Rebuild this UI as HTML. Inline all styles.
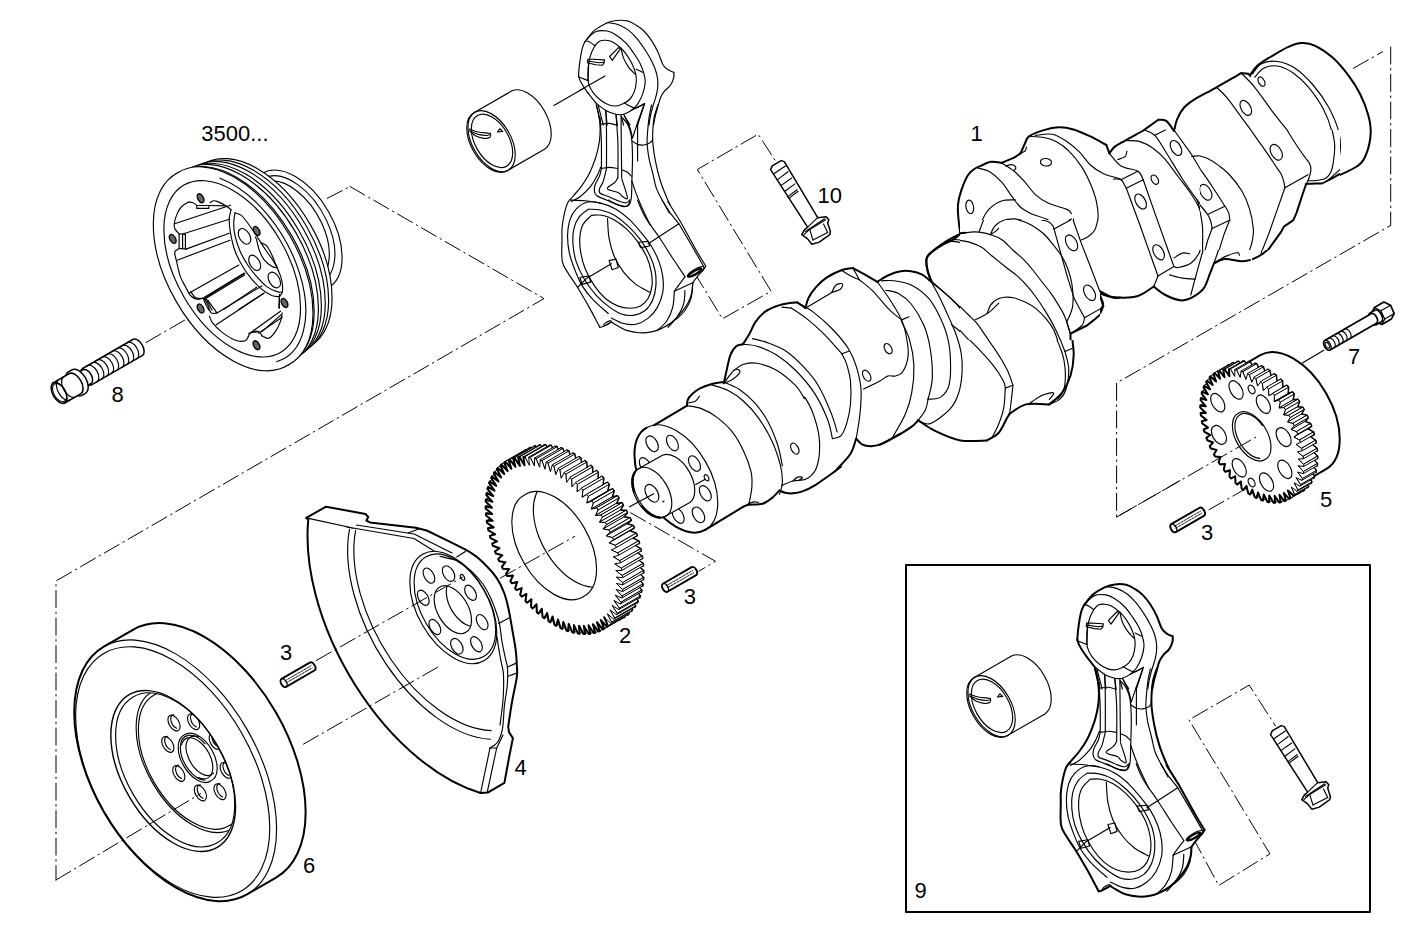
<!DOCTYPE html>
<html><head><meta charset="utf-8"><title>Crankshaft</title>
<style>
html,body{margin:0;padding:0;background:#fff}
body{width:1418px;height:945px;overflow:hidden}
svg{display:block}
.t{fill:none;stroke:#000;stroke-width:1.15}
.k{fill:none;stroke:#000;stroke-width:2}
.w{fill:#fff;stroke:#000;stroke-width:1.15}
.wk{fill:#fff;stroke:#000;stroke-width:2}
.wn{fill:#fff;stroke:none}
.d{fill:none;stroke:#000;stroke-width:1;stroke-dasharray:17 4.5 1.5 4.5}
text{font-family:"Liberation Sans",sans-serif;font-size:22px;fill:#000}
</style></head><body>
<svg width="1418" height="945" viewBox="0 0 1418 945" stroke-linecap="round" stroke-linejoin="round">
<rect width="1418" height="945" fill="#fff"/>
<rect x="906" y="565" width="464" height="347" class="k"/>
<g id="p_lines"><path class="d" d="M327 198.5L350 186.5"/><path class="d" d="M350 186.5L544 298.6L56 581L56 880"/><path class="d" d="M146 342.5L191 316.5"/><path class="d" d="M1353.4 68.2L1382.6 51.8"/><path class="d" d="M1390.7 47L1390.7 225.4L1116.6 383L1116.6 517.1L1180 480.6"/><path class="d" d="M1209 509.7L1243 490.3"/><path class="t" d="M1302.7 362.8L1323.8 350.3"/></g>
<g id="p_damper"><path class="wk" d="M247 894.4A143.1 82.6 60 0 1 103.8 646.6L132.9 629.8A143.1 82.6 60 0 1 276 877.7Z"/><path class="t" d="M103.8 646.6A143.1 82.6 60 0 1 247 894.4"/><path class="t" d="M241.3 890.9A137.2 79.2 60 1 1 104.1 653.2A137.2 79.2 60 1 1 241.3 890.9Z"/><path class="t" d="M217.3 847.4A88.2 50.9 60 1 1 129.1 694.6A88.2 50.9 60 1 1 217.3 847.4Z" style="stroke-width:1.4"/><path class="t" d="M217.3 842.8A84.2 48.6 60 1 1 133.1 696.9A84.2 48.6 60 1 1 217.3 842.8Z"/><clipPath id="dmpclip"><path d="M217.3 842.8A84.2 48.6 60 1 1 133.1 696.9A84.2 48.6 60 1 1 217.3 842.8Z"/></clipPath><g clip-path="url(#dmpclip)"><path class="t" d="M231.9 828.7A79.3 45.8 60 1 1 152.6 691.3A79.3 45.8 60 1 1 231.9 828.7Z"/><path class="t" d="M229.9 825.2A75.3 43.5 60 1 1 154.6 694.8A75.3 43.5 60 1 1 229.9 825.2Z"/><path class="t" d="M211 780.8A26.6 15.4 60 1 1 184.4 734.8A26.6 15.4 60 1 1 211 780.8Z"/><path class="t" d="M205.1 780.2A24.6 14.2 60 1 1 205.1 743.8"/><path class="t" d="M213.6 773.1A21.5 12.4 60 1 1 198.5 737"/><path class="t" d="M181.5 744.7A22.5 13 60 1 1 198.2 777.4"/><path class="t" d="M178.3 730.5A8.6 5 60 1 1 169.7 715.6A8.6 5 60 1 1 178.3 730.5Z"/><path class="t" d="M176.6 728.3A7.6 4.4 60 0 1 173.9 714.9"/><path class="t" d="M197.9 729.2A8.6 5 60 1 1 189.3 714.3A8.6 5 60 1 1 197.9 729.2Z"/><path class="t" d="M196.3 727A7.6 4.4 60 0 1 193.5 713.6"/><path class="t" d="M219.5 748.8A8.6 5 60 1 1 210.9 733.9A8.6 5 60 1 1 219.5 748.8Z"/><path class="t" d="M217.9 746.6A7.6 4.4 60 0 1 215.1 733.2"/><path class="t" d="M230.5 777.8A8.6 5 60 1 1 221.9 762.9A8.6 5 60 1 1 230.5 777.8Z"/><path class="t" d="M228.8 775.5A7.6 4.4 60 0 1 226 762.1"/><path class="t" d="M224.3 799.2A8.6 5 60 1 1 215.7 784.3A8.6 5 60 1 1 224.3 799.2Z"/><path class="t" d="M222.6 796.9A7.6 4.4 60 0 1 219.9 783.5"/><path class="t" d="M204.7 800.5A8.6 5 60 1 1 196.1 785.6A8.6 5 60 1 1 204.7 800.5Z"/><path class="t" d="M203 798.2A7.6 4.4 60 0 1 200.3 784.8"/><path class="t" d="M183.1 780.9A8.6 5 60 1 1 174.5 766A8.6 5 60 1 1 183.1 780.9Z"/><path class="t" d="M181.4 778.6A7.6 4.4 60 0 1 178.7 765.2"/><path class="t" d="M172.1 751.9A8.6 5 60 1 1 163.5 737A8.6 5 60 1 1 172.1 751.9Z"/><path class="t" d="M170.5 749.7A7.6 4.4 60 0 1 167.7 736.3"/></g></g>
<g id="p_plate"><path class="wk" d="M306.2 517.9L326 506.7L365.5 513.9L368.2 517L366.4 520.6L370 522.4L415.9 527.8L426.7 530.5L426.7 530.5C433.9 534.1 460 546.3 469.9 552.1C479.8 557.9 481.5 561.2 486 565.5C490.5 569.8 493.8 573.6 496.8 578.1C499.8 582.6 502.1 587.4 504 592.5C505.9 597.6 507.2 602.8 508.5 608.7C509.8 614.6 510.8 621.1 512 628C513.2 634.9 514.9 643.8 515.7 650C516.5 656.2 516.6 660.5 516.8 665C517 669.5 517.6 671.1 516.8 677.2C516 683.4 513.4 693.6 512 701.9C510.6 710.1 508.8 722.6 508.2 726.7L508.2 726.7L509.1 732.4L512.9 738.1L509.1 757.2L504.4 782.9L488.2 792.4L480.6 793A198 114.3 60 0 1 308.3 519.4Z"/><path class="t" d="M306.2 517.9L353 528L414 538.5L434 551"/><path class="t" d="M356.5 525L414.1 534L452 553"/><path class="t" d="M408 533L420 528.5"/><path class="t" d="M456.7 557L465.4 551.4"/><path class="t" d="M490.1 739.3A143.2 82.7 60 0 1 349.5 529.2"/><path class="t" d="M491.2 730.6A136.5 78.8 60 0 1 355.6 530.4"/><path class="t" d="M346.7 527L353 528.3"/><path class="t" d="M484 660.7A61.4 35.5 60 1 1 422.6 554.3A61.4 35.5 60 1 1 484 660.7Z"/><path class="t" d="M483.7 656.5A57.6 33.3 60 1 1 426.1 556.7A57.6 33.3 60 1 1 483.7 656.5Z"/><path class="t" d="M465.9 632.3A26.1 15.1 60 1 1 439.8 587.1A26.1 15.1 60 1 1 465.9 632.3Z"/><clipPath id="plbore"><path d="M465.9 632.3A26.1 15.1 60 1 1 439.8 587.1A26.1 15.1 60 1 1 465.9 632.3Z"/></clipPath><g clip-path="url(#plbore)"><path class="t" d="M469.8 626A26.1 15.1 60 1 1 466.6 582.4"/></g><path class="t" d="M433.1 582.8A8.3 4.8 60 1 1 424.8 568.4A8.3 4.8 60 1 1 433.1 582.8Z"/><path class="t" d="M452.7 580.7A8.3 4.8 60 1 1 444.4 566.4A8.3 4.8 60 1 1 452.7 580.7Z"/><path class="t" d="M474.7 600A8.3 4.8 60 1 1 466.4 585.6A8.3 4.8 60 1 1 474.7 600Z"/><path class="t" d="M486.3 629.3A8.3 4.8 60 1 1 478 614.9A8.3 4.8 60 1 1 486.3 629.3Z"/><path class="t" d="M480.6 651.4A8.3 4.8 60 1 1 472.3 637A8.3 4.8 60 1 1 480.6 651.4Z"/><path class="t" d="M461 653.4A8.3 4.8 60 1 1 452.7 639.1A8.3 4.8 60 1 1 461 653.4Z"/><path class="t" d="M439 634.2A8.3 4.8 60 1 1 430.7 619.8A8.3 4.8 60 1 1 439 634.2Z"/><path class="t" d="M427.4 604.9A8.3 4.8 60 1 1 419.1 590.5A8.3 4.8 60 1 1 427.4 604.9Z"/><path class="t" d="M464.1 580.2A3.2 1.8 60 1 1 460.9 574.6A3.2 1.8 60 1 1 464.1 580.2Z"/><path class="t" d="M440 556.2C441.6 556.6 446.3 557.7 449.5 558.6C452.7 559.5 455.3 559.6 459 561.7C462.7 563.8 467.7 567.6 471.7 571.3C475.7 575 479.7 579.5 482.9 584C486.1 588.5 488.6 593.5 490.8 598.3C493 603 494.9 608.3 496.3 612.5C497.8 616.7 498.6 618.9 499.5 623.7C500.4 628.5 501 635.6 501.9 641.1C502.8 646.6 504.2 652.5 505.1 657C506 661.5 507.1 663.4 507.5 668.1C507.9 672.8 507.8 678.7 507.3 685C506.8 691.3 505.2 698.4 504.4 705.7C503.6 713 503.6 722.6 502.5 728.6C501.4 734.6 499.8 738.8 497.7 742C495.6 745.2 491.3 747 490 748"/><path class="t" d="M490 748L480.6 793"/><path class="t" d="M496.7 748L487.2 792.4"/><path class="t" d="M490 748L496.7 748L503 735"/><path class="t" d="M508.2 666.7L516.8 662.9"/><path class="t" d="M508.2 676.2L515.8 673.4"/><path class="t" d="M498.6 623.5L509 618"/><path class="t" d="M497 637C497.3 638.9 498 644.2 498.7 648.3C499.4 652.4 500.3 657.2 501.1 661.7C501.9 666.2 503.2 668.6 503.5 675C503.8 681.4 503.6 691.7 503 700C502.4 708.3 500.5 720.8 500 725"/></g>
<g id="p_gear2"><path d="M617.8 610.4L620.6 619.1L619.3 619.6L613.7 612.2L616 620.8L614.6 621.1L609.3 613.3L611 621.8L609.6 622L604.7 613.9L605.8 622.1L604.3 622.1L599.8 613.8L600.3 621.8L598.8 621.6L594.7 613.1L594.7 620.8L593.1 620.4L589.5 611.9L588.9 619.2L587.2 618.6L584.2 610L583 616.9L581.3 616.1L578.8 607.5L577 613.9L575.3 613L573.4 604.5L571 610.4L569.4 609.3L567.9 600.9L565.1 606.3L563.4 605L562.6 596.8L559.2 601.6L557.6 600.2L557.3 592.3L553.4 596.4L551.9 594.8L552.2 587.3L547.9 590.7L546.3 589L547.2 581.9L542.5 584.6L541 582.8L542.5 576.1L537.3 578.1L535.9 576.2L538 570L532.5 571.2L531.2 569.2L533.7 563.6L527.9 564.1L526.7 562L529.8 557L523.8 556.7L522.7 554.6L526.3 550.2L520 549.2L519 547L523.1 543.3L516.6 541.5L515.8 539.4L520.3 536.3L513.7 533.8L513 531.6L517.9 529.3L511.3 526.1L510.7 523.9L516 522.3L509.3 518.4L508.8 516.3L514.5 515.4L507.8 510.9L507.5 508.8L513.4 508.7L506.9 503.5L506.7 501.5L512.9 502.1L506.4 496.4L506.4 494.4L512.8 495.8L506.5 489.5L506.6 487.6L513.2 489.8L507.1 483L507.4 481.2L514 484.1L508.2 476.8L508.6 475.2L515.3 478.7L509.9 471.1L510.4 469.6L517.1 473.8L512 465.9L512.7 464.5L519.3 469.4L514.6 461.2L515.4 460L521.9 465.4L517.7 457L518.6 456L525 462L521.2 453.4L522.2 452.5L528.4 459.1L525.1 450.5L526.2 449.7L532.2 456.8L529.4 448.1L530.6 447.6L536.2 455L534 446.4L535.4 446.1L540.6 453.9L538.9 445.4L540.4 445.2L545.3 453.3L544.2 445.1L545.7 445.1L550.2 453.4L549.6 445.4L551.2 445.6L555.2 454.1L555.3 446.4L556.9 446.8L560.5 455.3L561.1 448L562.7 448.6L565.8 457.2L567 450.3L568.7 451.1L571.2 459.7L573 453.3L574.6 454.2L576.6 462.7L578.9 456.8L580.6 457.9L582 466.3L584.9 460.9L586.5 462.2L587.4 470.4L590.8 465.6L592.4 467L592.7 474.9L596.5 470.8L598.1 472.4L597.8 479.9L602.1 476.5L603.6 478.2L602.8 485.3L607.5 482.6L609 484.4L607.5 491.1L612.6 489.1L614 491L612 497.2L617.5 496L618.8 498L616.2 503.6L622 503.1L623.2 505.2L620.1 510.2L626.2 510.5L627.3 512.6L623.7 517L630 518L631 520.2L626.9 523.9L633.3 525.7L634.2 527.8L629.7 530.9L636.3 533.4L637 535.6L632.1 537.9L638.7 541.1L639.3 543.3L634 544.9L640.7 548.8L641.1 550.9L635.5 551.8L642.2 556.3L642.5 558.4L636.5 558.5L643.1 563.7L643.3 565.7L637.1 565.1L643.5 570.8L643.6 572.8L637.2 571.4L643.5 577.7L643.3 579.6L636.8 577.4L642.9 584.2L642.6 586L636 583.1L641.7 590.4L641.3 592L634.6 588.5L640.1 596.1L639.6 597.6L632.9 593.4L638 601.3L637.3 602.7L630.7 597.8L635.4 606L634.6 607.2L628 601.8L632.3 610.2L631.4 611.2L625 605.2L628.8 613.8L627.8 614.7L621.6 608.1L624.9 616.7L623.7 617.5Z" fill="#fff" stroke="#000" stroke-width="2"/><g fill="#fff" stroke="#000" stroke-width="1"><path d="M492.2 543.6L497.1 541.3L517.9 529.3L513 531.6Z"/><path d="M531.4 599.3L527.1 602.7L547.9 590.7L552.2 587.3Z"/><path d="M489.9 535.9L495.2 534.3L516 522.3L510.7 523.9Z"/><path d="M536.5 604.3L532.7 608.4L553.4 596.4L557.3 592.3Z"/><path d="M488 528.3L493.7 527.4L514.5 515.4L508.8 516.3Z"/><path d="M541.8 608.8L538.4 613.6L559.2 601.6L562.6 596.8Z"/><path d="M486.7 520.8L492.7 520.7L513.4 508.7L507.5 508.8Z"/><path d="M547.2 612.9L544.3 618.3L565.1 606.3L567.9 600.9Z"/><path d="M485.9 513.5L492.1 514.1L512.9 502.1L506.7 501.5Z"/><path d="M552.6 616.5L550.2 622.4L571 610.4L573.4 604.5Z"/><path d="M485.6 506.4L492 507.8L512.8 495.8L506.4 494.4Z"/><path d="M558 619.5L556.2 625.9L577 613.9L578.8 607.5Z"/><path d="M485.8 499.6L492.4 501.8L513.2 489.8L506.6 487.6Z"/><path d="M563.4 622L562.2 628.9L583 616.9L584.2 610Z"/><path d="M486.6 493.2L493.2 496.1L514 484.1L507.4 481.2Z"/><path d="M568.7 623.9L568.1 631.2L588.9 619.2L589.5 611.9Z"/><path d="M487.9 487.2L494.5 490.7L515.3 478.7L508.6 475.2Z"/><path d="M573.9 625.1L573.9 632.8L594.7 620.8L594.7 613.1Z"/><path d="M489.6 481.6L496.3 485.8L517.1 473.8L510.4 469.6Z"/><path d="M579 625.8L579.6 633.8L600.3 621.8L599.8 613.8Z"/><path d="M491.9 476.5L498.5 481.4L519.3 469.4L512.7 464.5Z"/><path d="M583.9 625.9L585 634.1L605.8 622.1L604.7 613.9Z"/><path d="M494.6 472L501.1 477.4L521.9 465.4L515.4 460Z"/><path d="M588.5 625.3L590.2 633.8L611 621.8L609.3 613.3Z"/><path d="M497.8 468L504.2 474L525 462L518.6 456Z"/><path d="M592.9 624.2L595.2 632.8L616 620.8L613.7 612.2Z"/><path d="M501.4 464.5L507.6 471.1L528.4 459.1L522.2 452.5Z"/><path d="M597 622.4L599.8 631.1L620.6 619.1L617.8 610.4Z"/><path d="M505.4 461.7L511.4 468.8L532.2 456.8L526.2 449.7Z"/><path d="M604.1 628.7L603 629.5L623.7 617.5L624.9 616.7Z"/><path d="M600.8 620.1L604.1 628.7L624.9 616.7L621.6 608.1Z"/><path d="M508.6 460.1L509.8 459.6L530.6 447.6L529.4 448.1Z"/><path d="M509.8 459.6L515.5 467L536.2 455L530.6 447.6Z"/><path d="M608 625.8L607 626.7L627.8 614.7L628.8 613.8Z"/><path d="M604.2 617.2L608 625.8L628.8 613.8L625 605.2Z"/><path d="M513.2 458.4L514.6 458.1L535.4 446.1L534 446.4Z"/><path d="M514.6 458.1L519.9 465.9L540.6 453.9L535.4 446.1Z"/><path d="M611.5 622.2L610.6 623.2L631.4 611.2L632.3 610.2Z"/><path d="M607.3 613.8L611.5 622.2L632.3 610.2L628 601.8Z"/><path d="M518.2 457.4L519.6 457.2L540.4 445.2L538.9 445.4Z"/><path d="M519.6 457.2L524.5 465.3L545.3 453.3L540.4 445.2Z"/><path d="M614.6 618L613.8 619.2L634.6 607.2L635.4 606Z"/><path d="M609.9 609.8L614.6 618L635.4 606L630.7 597.8Z"/><path d="M523.4 457.1L524.9 457.1L545.7 445.1L544.2 445.1Z"/><path d="M524.9 457.1L529.4 465.4L550.2 453.4L545.7 445.1Z"/><path d="M617.2 613.3L616.5 614.7L637.3 602.7L638 601.3Z"/><path d="M612.1 605.4L617.2 613.3L638 601.3L632.9 593.4Z"/><path d="M528.8 457.4L530.4 457.6L551.2 445.6L549.6 445.4Z"/><path d="M530.4 457.6L534.5 466.1L555.2 454.1L551.2 445.6Z"/><path d="M619.3 608.1L618.8 609.6L639.6 597.6L640.1 596.1Z"/><path d="M613.9 600.5L619.3 608.1L640.1 596.1L634.6 588.5Z"/><path d="M536.1 458.8L539.7 467.3L560.5 455.3L556.9 446.8Z"/><path d="M534.5 458.4L536.1 458.8L556.9 446.8L555.3 446.4Z"/><path d="M615.2 595.1L621 602.4L641.7 590.4L636 583.1Z"/><path d="M621 602.4L620.5 604L641.3 592L641.7 590.4Z"/><path d="M541.9 460.6L545 469.2L565.8 457.2L562.7 448.6Z"/><path d="M540.3 460L541.9 460.6L562.7 448.6L561.1 448Z"/><path d="M616 589.4L622.1 596.2L642.9 584.2L636.8 577.4Z"/><path d="M622.1 596.2L621.8 598L642.6 586L642.9 584.2Z"/><path d="M547.9 463.1L550.4 471.7L571.2 459.7L568.7 451.1Z"/><path d="M546.2 462.3L547.9 463.1L568.7 451.1L567 450.3Z"/><path d="M616.4 583.4L622.7 589.7L643.5 577.7L637.2 571.4Z"/><path d="M622.7 589.7L622.6 591.6L643.3 579.6L643.5 577.7Z"/><path d="M553.8 466.2L555.8 474.7L576.6 462.7L574.6 454.2Z"/><path d="M552.2 465.3L553.8 466.2L574.6 454.2L573 453.3Z"/><path d="M616.3 577.1L622.8 582.8L643.5 570.8L637.1 565.1Z"/><path d="M622.8 582.8L622.8 584.8L643.6 572.8L643.5 570.8Z"/><path d="M559.8 469.9L561.2 478.3L582 466.3L580.6 457.9Z"/><path d="M558.2 468.8L559.8 469.9L580.6 457.9L578.9 456.8Z"/><path d="M615.7 570.5L622.3 575.7L643.1 563.7L636.5 558.5Z"/><path d="M622.3 575.7L622.5 577.7L643.3 565.7L643.1 563.7Z"/><path d="M565.8 474.2L566.6 482.4L587.4 470.4L586.5 462.2Z"/><path d="M614.7 563.8L621.4 568.3L642.2 556.3L635.5 551.8Z"/><path d="M564.1 472.9L565.8 474.2L586.5 462.2L584.9 460.9Z"/><path d="M621.4 568.3L621.7 570.4L642.5 558.4L642.2 556.3Z"/><path d="M571.6 479L571.9 486.9L592.7 474.9L592.4 467Z"/><path d="M613.2 556.9L619.9 560.8L640.7 548.8L634 544.9Z"/><path d="M570 477.6L571.6 479L592.4 467L590.8 465.6Z"/><path d="M577.3 484.4L577 491.9L597.8 479.9L598.1 472.4Z"/><path d="M619.9 560.8L620.4 562.9L641.1 550.9L640.7 548.8Z"/><path d="M611.3 549.9L617.9 553.1L638.7 541.1L632.1 537.9Z"/><path d="M575.7 482.8L577.3 484.4L598.1 472.4L596.5 470.8Z"/><path d="M582.9 490.2L582 497.3L602.8 485.3L603.6 478.2Z"/><path d="M582 497.3L586.7 494.6L607.5 482.6L602.8 485.3Z"/><path d="M608.9 542.9L615.5 545.4L636.3 533.4L629.7 530.9Z"/><path d="M617.9 553.1L618.5 555.3L639.3 543.3L638.7 541.1Z"/><path d="M613.4 539.8L608.9 542.9L629.7 530.9L634.2 527.8Z"/><path d="M588.2 496.4L586.7 503.1L607.5 491.1L609 484.4Z"/><path d="M586.7 503.1L591.9 501.1L612.6 489.1L607.5 491.1Z"/><path d="M606.1 535.9L612.6 537.7L633.3 525.7L626.9 523.9Z"/><path d="M581.3 488.5L582.9 490.2L603.6 478.2L602.1 476.5Z"/><path d="M610.2 532.2L606.1 535.9L626.9 523.9L631 520.2Z"/><path d="M593.3 503L591.2 509.2L612 497.2L614 491Z"/><path d="M591.2 509.2L596.7 508L617.5 496L612 497.2Z"/><path d="M615.5 545.4L616.2 547.6L637 535.6L636.3 533.4Z"/><path d="M602.9 529L609.2 530L630 518L623.7 517Z"/><path d="M606.5 524.6L602.9 529L623.7 517L627.3 512.6Z"/><path d="M598 510L595.4 515.6L616.2 503.6L618.8 498Z"/><path d="M595.4 515.6L601.2 515.1L622 503.1L616.2 503.6Z"/><path d="M599.3 522.2L605.4 522.5L626.2 510.5L620.1 510.2Z"/><path d="M602.4 517.2L599.3 522.2L620.1 510.2L623.2 505.2Z"/><path d="M586.7 494.6L588.2 496.4L609 484.4L607.5 482.6Z"/><path d="M612.6 537.7L613.4 539.8L634.2 527.8L633.3 525.7Z"/><path d="M591.9 501.1L593.3 503L614 491L612.6 489.1Z"/><path d="M609.2 530L610.2 532.2L631 520.2L630 518Z"/><path d="M596.7 508L598 510L618.8 498L617.5 496Z"/><path d="M605.4 522.5L606.5 524.6L627.3 512.6L626.2 510.5Z"/><path d="M601.2 515.1L602.4 517.2L623.2 505.2L622 503.1Z"/></g><path d="M597 622.4L599.8 631.1L598.6 631.6L592.9 624.2L595.2 632.8L593.8 633.1L588.5 625.3L590.2 633.8L588.8 634L583.9 625.9L585 634.1L583.5 634.1L579 625.8L579.6 633.8L578 633.6L573.9 625.1L573.9 632.8L572.3 632.4L568.7 623.9L568.1 631.2L566.5 630.6L563.4 622L562.2 628.9L560.5 628.1L558 619.5L556.2 625.9L554.6 625L552.6 616.5L550.2 622.4L548.6 621.3L547.2 612.9L544.3 618.3L542.6 617L541.8 608.8L538.4 613.6L536.8 612.2L536.5 604.3L532.7 608.4L531.1 606.8L531.4 599.3L527.1 602.7L525.5 601L526.4 593.9L521.7 596.6L520.2 594.8L521.7 588.1L516.5 590.1L515.1 588.2L517.2 582L511.7 583.2L510.4 581.2L513 575.6L507.2 576.1L506 574L509.1 569L503 568.7L501.9 566.6L505.5 562.2L499.2 561.2L498.2 559L502.3 555.3L495.8 553.5L495 551.4L499.5 548.3L492.9 545.8L492.2 543.6L497.1 541.3L490.5 538.1L489.9 535.9L495.2 534.3L488.5 530.4L488 528.3L493.7 527.4L487 522.9L486.7 520.8L492.7 520.7L486.1 515.5L485.9 513.5L492.1 514.1L485.6 508.4L485.6 506.4L492 507.8L485.7 501.5L485.8 499.6L492.4 501.8L486.3 495L486.6 493.2L493.2 496.1L487.4 488.8L487.9 487.2L494.5 490.7L489.1 483.1L489.6 481.6L496.3 485.8L491.2 477.9L491.9 476.5L498.5 481.4L493.8 473.2L494.6 472L501.1 477.4L496.9 469L497.8 468L504.2 474L500.4 465.4L501.4 464.5L507.6 471.1L504.3 462.5L505.4 461.7L511.4 468.8L508.6 460.1L509.8 459.6L515.5 467L513.2 458.4L514.6 458.1L519.9 465.9L518.2 457.4L519.6 457.2L524.5 465.3L523.4 457.1L524.9 457.1L529.4 465.4L528.8 457.4L530.4 457.6L534.5 466.1L534.5 458.4L536.1 458.8L539.7 467.3L540.3 460L541.9 460.6L545 469.2L546.2 462.3L547.9 463.1L550.4 471.7L552.2 465.3L553.8 466.2L555.8 474.7L558.2 468.8L559.8 469.9L561.2 478.3L564.1 472.9L565.8 474.2L566.6 482.4L570 477.6L571.6 479L571.9 486.9L575.7 482.8L577.3 484.4L577 491.9L581.3 488.5L582.9 490.2L582 497.3L586.7 494.6L588.2 496.4L586.7 503.1L591.9 501.1L593.3 503L591.2 509.2L596.7 508L598 510L595.4 515.6L601.2 515.1L602.4 517.2L599.3 522.2L605.4 522.5L606.5 524.6L602.9 529L609.2 530L610.2 532.2L606.1 535.9L612.6 537.7L613.4 539.8L608.9 542.9L615.5 545.4L616.2 547.6L611.3 549.9L617.9 553.1L618.5 555.3L613.2 556.9L619.9 560.8L620.4 562.9L614.7 563.8L621.4 568.3L621.7 570.4L615.7 570.5L622.3 575.7L622.5 577.7L616.3 577.1L622.8 582.8L622.8 584.8L616.4 583.4L622.7 589.7L622.6 591.6L616 589.4L622.1 596.2L621.8 598L615.2 595.1L621 602.4L620.5 604L613.9 600.5L619.3 608.1L618.8 609.6L612.1 605.4L617.2 613.3L616.5 614.7L609.9 609.8L614.6 618L613.8 619.2L607.3 613.8L611.5 622.2L610.6 623.2L604.2 617.2L608 625.8L607 626.7L600.8 620.1L604.1 628.7L603 629.5Z" fill="#fff" stroke="#000" stroke-width="1"/><path d="M597 622.4L599.8 631.1L598.6 631.6L592.9 624.2L595.2 632.8L593.8 633.1L588.5 625.3L590.2 633.8L588.8 634L583.9 625.9L585 634.1L583.5 634.1L579 625.8L579.6 633.8L578 633.6L573.9 625.1L573.9 632.8L572.3 632.4L568.7 623.9L568.1 631.2L566.5 630.6L563.4 622L562.2 628.9L560.5 628.1L558 619.5L556.2 625.9L554.6 625L552.6 616.5L550.2 622.4L548.6 621.3L547.2 612.9L544.3 618.3L542.6 617L541.8 608.8L538.4 613.6L536.8 612.2L536.5 604.3L532.7 608.4L531.1 606.8L531.4 599.3L527.1 602.7L525.5 601L526.4 593.9L521.7 596.6L520.2 594.8L521.7 588.1L516.5 590.1L515.1 588.2L517.2 582L511.7 583.2L510.4 581.2L513 575.6L507.2 576.1L506 574L509.1 569L503 568.7L501.9 566.6L505.5 562.2L499.2 561.2L498.2 559L502.3 555.3L495.8 553.5L495 551.4L499.5 548.3L492.9 545.8L492.2 543.6L497.1 541.3L490.5 538.1L489.9 535.9L495.2 534.3L488.5 530.4L488 528.3L493.7 527.4L487 522.9L486.7 520.8L492.7 520.7L486.1 515.5L485.9 513.5L492.1 514.1L485.6 508.4L485.6 506.4L492 507.8L485.7 501.5L485.8 499.6L492.4 501.8L486.3 495L486.6 493.2L493.2 496.1L487.4 488.8L487.9 487.2L494.5 490.7L489.1 483.1L489.6 481.6L496.3 485.8L491.2 477.9L491.9 476.5L498.5 481.4L493.8 473.2L494.6 472L501.1 477.4L496.9 469L497.8 468L504.2 474L500.4 465.4L501.4 464.5L507.6 471.1L504.3 462.5L505.4 461.7L511.4 468.8L508.6 460.1L509.8 459.6L515.5 467L513.2 458.4L514.6 458.1L519.9 465.9L518.2 457.4L519.6 457.2L524.5 465.3L523.4 457.1L524.9 457.1" fill="none" stroke="#000" stroke-width="2"/><path d="M604.2 617.2L608 625.8L607 626.7L600.8 620.1L604.1 628.7L603 629.5L597 622.4" fill="none" stroke="#000" stroke-width="2"/><path class="w" d="M583.6 596.5A58.8 34 60 1 1 524.8 494.7A58.8 34 60 1 1 583.6 596.5Z"/><clipPath id="g2bore"><path d="M583.6 596.5A58.8 34 60 1 1 524.8 494.7A58.8 34 60 1 1 583.6 596.5Z"/></clipPath><g clip-path="url(#g2bore)"><path class="t" d="M592.6 587.3A58.8 34 60 1 1 585.7 493.4"/></g></g>
<g id="p_crank"><clipPath id="crk0"><path clip-rule="evenodd" d="M0 0H1418V945H0ZM960 220H1100V340H960ZM1200 130H1340V250H1200Z"/></clipPath><g clip-path="url(#crk0)"><path class="k" d="M705.6 529.7A58.9 34 60 0 1 646.6 427.7"/><path class="t" d="M646.6 427.7A58.9 34 60 0 1 705.6 529.7"/><path class="k" d="M653.8 425.3L687.1 405.7"/><path class="k" d="M687.1 405.7C687.2 404.8 686.9 401.9 687.7 400C688.5 398.1 689.9 396.2 691.9 394.3C693.9 392.4 696.3 390.3 699.5 388.6C702.7 386.9 706.8 385.3 711 384.2C715.1 383.1 722.1 382.3 724.3 381.9"/><path class="k" d="M705.6 529.7L743.3 506.7"/><path class="k" d="M743.3 506.7C744.3 506.3 745.9 505.2 749 504.8C752.2 504.3 758.6 504.9 762.4 503.8C766.2 502.7 769 500.3 771.9 498.1C774.8 495.9 778.3 491.7 779.5 490.5"/><path class="k" d="M779.5 490.5C780.5 490.9 783 492.3 785.2 492.8C787.5 493.2 790 493.6 792.9 493.3C795.7 493.1 798.6 492.9 802.4 491.4C806.2 490 810.3 488.1 815.7 484.8C821.1 481.4 830.6 474.4 834.8 471.4C839 468.4 839.8 467.5 840.9 466.7"/><path class="t" d="M687.1 405.7C689.5 406.2 696.5 406.7 701.4 408.6C706.3 410.5 711.6 413.3 716.7 417.1C721.7 421 727.5 425.9 731.9 431.4C736.3 437 740.2 443.8 743.3 450.5C746.5 457.1 749.5 465.4 751 471.4C752.4 477.5 752.2 481.3 751.9 486.7C751.6 492.1 749.5 501 749 503.8"/><path class="t" d="M689 402.9C690.2 402.5 694 402.1 695.7 401C697.5 399.8 698.9 397 699.5 396.2"/><path class="t" d="M711 384.8C713.8 385.7 722.7 387.8 728.1 390.5C733.5 393.2 738.3 396.3 743.3 401C748.4 405.6 753.8 411.4 758.6 418.1C763.3 424.8 768.3 433 771.9 441C775.6 448.9 778.7 458.7 780.5 465.7C782.2 472.7 782.5 478.1 782.4 482.9C782.2 487.6 780 492.4 779.5 494.3"/><path class="t" d="M724.3 382.3C726.8 383.5 734.4 386.1 739.5 389.5C744.6 393 750 397.5 754.8 402.9C759.5 408.3 764.3 414.9 768.1 421.9C771.9 428.9 775.2 437.5 777.6 444.8C780 452.1 781.6 462.2 782.4 465.7"/><path class="t" d="M748.1 503.8C749 503.5 752.1 502.2 753.8 501.9C755.6 501.7 757.8 502.2 758.6 502.3"/><path class="t" d="M781.4 485.7C783.3 484.9 788.7 482.1 792.9 481C797 479.8 802.4 481 806.2 479C810 477.1 813.5 474 815.7 469.5C817.9 465.1 819 458.4 819.5 452.4C820 446.3 819.8 440.3 818.6 433.3C817.3 426.3 814.2 416.5 811.9 410.5C809.6 404.4 805.9 399.4 804.7 397.1"/><path class="t" d="M792.9 481C793.7 480.3 796 477.7 797.6 477.1C799.2 476.6 802.2 477 802.4 477.5C802.5 478.1 799.2 480.1 798.6 480.6"/><path class="t" d="M797.8 453.8A6 3.5 60 1 1 791.8 443.4A6 3.5 60 1 1 797.8 453.8Z"/><path class="t" d="M656.3 451A8.4 4.9 60 1 1 647.9 436.5A8.4 4.9 60 1 1 656.3 451Z"/><path class="t" d="M676.6 450.3A8.4 4.9 60 1 1 668.2 435.7A8.4 4.9 60 1 1 676.6 450.3Z"/><path class="t" d="M698.7 470.8A8.4 4.9 60 1 1 690.3 456.2A8.4 4.9 60 1 1 698.7 470.8Z"/><path class="t" d="M709.5 500.6A8.4 4.9 60 1 1 701.1 486A8.4 4.9 60 1 1 709.5 500.6Z"/><path class="t" d="M702.7 522.1A8.4 4.9 60 1 1 694.3 507.6A8.4 4.9 60 1 1 702.7 522.1Z"/><path class="t" d="M682.4 522.9A8.4 4.9 60 1 1 674 508.3A8.4 4.9 60 1 1 682.4 522.9Z"/><path class="t" d="M660.3 502.4A8.4 4.9 60 1 1 651.9 487.8A8.4 4.9 60 1 1 660.3 502.4Z"/><path class="t" d="M649.5 472.6A8.4 4.9 60 1 1 641.1 458A8.4 4.9 60 1 1 649.5 472.6Z"/><path class="w" d="M665.4 516.3A27.3 15.8 60 0 1 638.1 469.1L662.5 455.3A27.3 15.8 60 0 1 689.8 502.5Z"/><path class="t" d="M665.4 516.3A27.3 15.8 60 1 1 638.1 469.1A27.3 15.8 60 1 1 665.4 516.3Z"/><path class="k" d="M659.9 517.6A27.3 15.8 60 0 1 642 506.4"/><path class="k" d="M634.2 492A27.3 15.8 60 0 1 635 471.9"/><path class="t" d="M656.7 501.6A9.6 5.5 60 1 1 647.1 485A9.6 5.5 60 1 1 656.7 501.6Z"/><path class="t" d="M695.7 484.4L704.7 479.4"/><path class="t" d="M708.2 480.6A3.3 1.9 60 1 1 704.9 474.9A3.3 1.9 60 1 1 708.2 480.6Z"/><path class="t" d="M662.6 501.9L664.1 501.1"/><path class="k" d="M723.8 383.3C724.3 381.1 725.6 374.8 726.7 370C727.8 365.2 728.9 358.7 730.5 354.8C732.1 350.8 734.1 347.9 736.2 346.2C738.3 344.4 741.7 344.6 742.9 344.3"/><path class="k" d="M742.9 344.3C744 342.5 747.5 337.5 749.5 333.8C751.6 330.2 752.7 326 755.2 322.4C757.8 318.7 761.3 314.6 764.8 311.9C768.3 309.2 772.1 307.7 776.2 306.2C780.3 304.7 786 303.6 789.5 303C793 302.3 795.9 302.5 797.1 302.4"/><path class="k" d="M797.1 302.4L804.8 307.5"/><path class="k" d="M837.1 469C839.4 466.5 847.3 458.9 850.5 453.8C853.7 448.7 855.2 441.1 856.2 438.6"/><path class="k" d="M856.2 438.6C857.1 439.5 859.4 443 861.9 444.3C864.4 445.6 867.9 446.3 871.4 446.2C874.9 446 878.1 445.4 882.9 443.3C887.6 441.3 897.1 435.4 900 433.8"/><path class="t" d="M723.8 383.3C725.6 381.1 731.6 371.9 734.3 370C737 368.1 740.3 370.3 740 371.9C739.7 373.5 735.1 377.6 732.4 379.5C729.7 381.4 725.2 382.7 723.8 383.3"/><path class="t" d="M734.3 370C735.9 369 740 365.4 743.8 364.3C747.6 363.2 751.7 362.4 757.1 363.3C762.5 364.3 769.8 366.3 776.2 370C782.5 373.7 790.5 380.5 795.2 385.2C799.9 390 802.9 396.3 804.4 398.6"/><path class="t" d="M742.9 344.3C745.2 344.6 751.6 344.4 757.1 346.2C762.7 347.9 769.8 350.8 776.2 354.8C782.5 358.7 788.9 363.7 795.2 370C801.6 376.3 808.9 384.6 814.3 392.9C819.7 401.1 824.6 411.9 827.6 419.5C830.6 427.1 831.6 435.4 832.4 438.6"/><path class="t" d="M752.4 338.6C754.8 339.2 761.1 340.3 766.7 342.4C772.2 344.4 779.7 347 785.7 351C791.7 354.9 797.5 360.5 802.9 366.2C808.3 371.9 813.3 377.3 818.1 385.2C822.9 393.2 828.3 406 831.4 413.8C834.6 421.6 836.2 428.9 837.1 431.9"/><path class="t" d="M832.4 438.6C833.8 438.1 838.6 438.3 841 435.7C843.3 433.2 845.1 428.6 846.7 423.3C848.3 418.1 849.8 411.3 850.5 404.3C851.1 397.3 851.1 388.1 850.5 381.4C849.8 374.8 848.1 368.9 846.7 364.3C845.2 359.7 842.7 355.6 841.9 353.8"/><path class="t" d="M791.4 308.1C794 309.8 801.3 314.3 806.7 318.6C812.1 322.9 817.9 327.9 823.8 333.8C829.7 339.7 838.9 350.5 841.9 353.8"/><path class="t" d="M841.9 353.8L849.5 351"/><path class="t" d="M797.1 302.4C800 304.1 808.3 308.3 814.3 312.9C820.3 317.5 827.6 324 833.3 330C839 336 844.8 343 848.6 349C852.4 355.1 854.1 359.5 856.2 366.2C858.3 372.9 860.3 381.1 861 389C861.6 397 860.8 405.6 860 413.8C859.2 422.1 856.8 434.4 856.2 438.6"/><path class="t" d="M890.9 353.4A5.5 3.2 60 1 1 885.4 343.9A5.5 3.2 60 1 1 890.9 353.4Z"/><path class="t" d="M869.7 380.9A6 3.5 60 1 1 863.7 370.5A6 3.5 60 1 1 869.7 380.9Z"/><path class="t" d="M781.9 307.1L791.4 308.1"/><path class="k" d="M805.4 308.3C805.9 306.5 806.8 301.2 808.6 297.7C810.3 294.2 813 290.5 816 287.1C819 283.8 822.3 280.4 826.5 277.6C830.8 274.8 836.9 271.8 841.3 270.2C845.8 268.6 851 268.4 853 268.1"/><path class="k" d="M853 268.1L864.6 274.4L877.3 281.8"/><path class="k" d="M877.3 281.8C879.1 280.8 884 277.2 887.9 275.5C891.8 273.7 896.7 272 900.6 271.3C904.5 270.5 907.6 270.7 911.2 271.3C914.7 271.8 918.4 272.7 921.7 274.4C925.1 276.2 929.7 280.6 931.3 281.8"/><path class="k" d="M931.3 281.8C930.7 280.2 928.9 275.7 928.1 272.3C927.3 269 926.4 264.6 926.4 261.7C926.4 258.9 925.7 258 928.1 255.4C930.5 252.7 936.5 248.5 940.8 245.9C945 243.2 950.3 241.5 953.5 239.5C956.6 237.6 958.8 235.1 959.8 234.2"/><path class="t" d="M805.4 308.3L831.8 292.4"/><path class="t" d="M831.8 292.4C832.5 291.2 834.3 286.4 836.1 285C837.8 283.6 841.7 283.2 842.4 283.9C843.1 284.7 842.1 287.8 840.3 289.2C838.5 290.6 833.2 291.9 831.8 292.4"/><path class="t" d="M841.3 270.2C842.8 271.1 846.8 273.9 849.8 275.5C852.8 277.1 857.7 279 859.3 279.7"/><path class="t" d="M853 268.1L859.3 279.7"/><path class="t" d="M859.3 279.7C861.6 281.7 868 286.2 873.1 291.3C878.2 296.5 885.2 305.6 890 310.4C894.8 315.1 899.7 318.3 901.6 319.9"/><path class="t" d="M901.6 319.9L909 316.7"/><path class="t" d="M877.3 281.8C879.4 284.8 886 293.5 890 299.8C894.1 306.2 898.8 313.2 901.6 319.9C904.5 326.6 905.9 333.8 906.9 340C908 346.2 908.7 351.6 908 356.9C907.3 362.2 904.8 368.6 902.7 371.7C900.6 374.9 897.8 375.3 895.3 376C892.8 376.7 890.5 375.1 887.9 376C885.2 376.9 883.5 379.1 879.4 381.3C875.4 383.4 866.2 387.8 863.6 389.1"/><path class="t" d="M885.8 290.3C887.9 290.8 894.2 291.2 898.5 293.5C902.7 295.8 906.9 298.8 911.2 304C915.4 309.3 920.7 317.8 923.9 325.2C927 332.6 928.8 339.7 930.2 348.5C931.6 357.3 932.7 369.6 932.3 378.1C932 386.5 928.8 395.7 928.1 399.2"/><path class="t" d="M928.1 399.2C930.2 398.9 937.3 399.6 940.8 397.1C944.3 394.7 947.7 391.1 949.2 384.4C950.8 377.7 950.7 365 950.3 356.9C949.9 348.8 949.1 342.8 947.1 335.8C945.2 328.7 941.8 321 938.7 314.6C935.5 308.3 932.7 302.6 928.1 297.7C923.5 292.8 916.8 287.8 911.2 285C905.5 282.2 899.2 281.5 894.2 280.8C889.3 280.1 883.7 280.8 881.5 280.8"/><path class="t" d="M931.3 281.8C932.8 284.8 937.4 292.9 940.8 299.8C944.1 306.7 948.7 317.1 951.4 323.1C954 329.1 955 330.8 956.6 336C958.3 341.1 960.4 348 961.3 354C962.2 360 962.6 365.4 962.1 372C961.7 378.5 960.7 387.3 958.5 393.5C956.4 399.8 954.2 404.6 949.5 409.6C944.7 414.6 935.5 421.8 930.2 423.6C924.9 425.4 919.6 420.9 917.5 420.4"/><path class="t" d="M953.5 239.5C956.3 239.9 964.8 239.7 970.4 241.6C976 243.6 982.4 247.8 987.3 251.2C992.3 254.5 997.9 260 1000 261.7"/><path class="t" d="M974.6 318.9C977.1 318 985.2 315.3 989.4 313.6C993.7 311.8 998.2 309.2 1000 308.3"/><path class="t" d="M989.4 313.6C989.8 312 989.8 306.7 991.6 304C993.3 301.4 998.6 298.8 1000 297.7"/><path class="k" d="M960.3 233.8C959.9 230.8 958.5 220.9 958.2 215.8C957.8 210.7 957.6 207.3 958.2 203.1C958.7 198.9 959.8 195 961.3 190.4C962.9 185.8 965.6 179.1 967.7 175.6C969.8 172.1 971.9 170.8 974 169.2C976.2 167.6 977.6 167.3 980.4 166.1C983.2 164.8 987.4 162.4 991 161.8C994.5 161.3 999.8 162.7 1001.5 162.9"/><path class="k" d="M931.7 281.4C931 279.6 928.4 274.3 927.5 270.8C926.6 267.3 926.1 263 926.4 260.2C926.8 257.4 926.3 257 929.6 253.9C933 250.7 941.4 244.5 946.5 241.2C951.7 237.8 958 235 960.3 233.8"/><path class="k" d="M1001.5 162.9L1014.2 157.6L1020.6 153.4"/><path class="k" d="M1020.6 153.4C1021.3 151.8 1023.4 146.7 1024.8 143.8C1026.2 141 1025.9 138.7 1029 136.4C1032.2 134.2 1038.9 131.6 1043.9 130.1C1048.8 128.6 1053.7 127.5 1058.7 127.3C1063.6 127.2 1068.2 127.9 1073.5 129.5C1078.8 131 1084.9 133.9 1090.4 136.4C1095.9 139 1103.6 143.5 1106.3 144.9"/><path class="k" d="M1106.3 144.9L1109.4 153.4"/><path class="t" d="M960.3 233.8C962.6 233.4 969.3 231.5 974 231.6C978.8 231.8 983.6 232.5 988.9 234.8C994.1 237.1 999.4 240.1 1005.8 245.4C1012.1 250.7 1020.6 259.1 1026.9 266.5C1033.3 274 1039.6 282.6 1043.9 289.8C1048.1 297 1050.9 306.6 1052.3 309.9"/><path class="t" d="M948.7 241.2C951.1 241.5 958.2 241.5 963.5 243.3C968.8 245 974 247.2 980.4 251.7C986.7 256.3 995.2 263.7 1001.5 270.8C1007.9 277.8 1014.2 287.5 1018.5 294C1022.7 300.6 1025.5 307.3 1026.9 309.9"/><path class="t" d="M931.7 281.4C935.3 284.5 948 295.6 952.9 300.4C957.8 305.2 959.9 308.3 961.3 309.9"/><path class="t" d="M978.3 168.2C980 168.7 985 169.1 988.9 171.3C992.7 173.6 997.7 177.7 1001.5 181.9C1005.4 186.2 1008.9 192.5 1012.1 196.7C1015.3 201 1017.4 204.5 1020.6 207.3C1023.8 210.1 1026.6 211.5 1031.2 213.7C1035.7 215.8 1044.6 217.5 1048.1 220C1051.6 222.5 1051.6 227.1 1052.3 228.5"/><path class="t" d="M1001.5 162.9C1003.7 164.3 1010.4 168.2 1014.2 171.3C1018.1 174.5 1021.3 178 1024.8 181.9C1028.3 185.8 1031.5 191.1 1035.4 194.6C1039.3 198.1 1042.8 200.6 1048.1 203.1C1053.4 205.6 1063.2 207.7 1067.1 209.4C1071 211.2 1070.7 213 1071.4 213.7"/><path class="t" d="M1015.3 199.9C1013 200.1 1006 199.4 1001.5 201C997.1 202.6 992.2 205.9 988.9 209.4C985.5 213 983 218.2 981.4 222.1C979.9 226 979.7 230.9 979.3 232.7"/><path class="t" d="M991 234.8C991.5 233.4 992.4 228.6 994.1 226.4C995.9 224.1 998.2 222.3 1001.5 221.1C1004.9 219.8 1010 218.8 1014.2 218.9C1018.5 219.1 1022.7 220.5 1026.9 222.1C1031.2 223.7 1035.4 225.3 1039.6 228.5C1043.9 231.6 1048.8 236.2 1052.3 241.2C1055.8 246.1 1058.3 252.4 1060.8 258.1C1063.2 263.7 1065.4 269 1067.1 275C1068.9 281 1070.3 288.2 1071.4 294C1072.4 299.9 1073.1 307.3 1073.5 309.9"/><path class="t" d="M991 234.8L999.4 228.5"/><path class="t" d="M1052.3 228.5L1071.4 218.9"/><path class="t" d="M1029 136.4C1031.5 136.6 1039.3 136.6 1043.9 137.5C1048.4 138.4 1052.3 139.4 1056.5 141.7C1060.8 144 1065 147 1069.2 151.3C1073.5 155.5 1078.2 161.3 1081.9 167.1C1085.6 172.9 1089 180.2 1091.5 186.2C1093.9 192.2 1095.7 197.4 1096.7 203.1C1097.8 208.7 1098.5 215.1 1097.8 220C1097.1 224.9 1095.2 229.5 1092.5 232.7C1089.9 235.9 1083.7 238.3 1081.9 239.5"/><path class="t" d="M1035.4 135.4C1038.2 135.2 1047 133.3 1052.3 134.3C1057.6 135.4 1062.5 138.7 1067.1 141.7C1071.7 144.7 1075.9 148.4 1079.8 152.3C1083.7 156.2 1086.5 161.5 1090.4 165C1094.3 168.5 1098.2 171.2 1103.1 173.5C1108 175.8 1117.2 177.9 1120 178.8"/><path class="t" d="M1019.5 153.4C1020.4 153 1023.7 152.3 1024.8 151.3C1026 150.2 1026.2 147.7 1026.5 147"/><path class="t" d="M971 213.7A6.9 3.8 80 1 1 968.6 200.1A6.9 3.8 80 1 1 971 213.7Z"/><path class="t" d="M1051.4 162.7A5.5 3.4 5 1 1 1040.5 161.8A5.5 3.4 5 1 1 1051.4 162.7Z"/><path class="t" d="M1005.8 166.1C1006.8 165.8 1010.4 164.3 1012.1 164.6C1013.8 164.8 1015.6 166.6 1015.9 167.5C1016.3 168.5 1014.5 169.8 1014.2 170.3"/><path class="k" d="M880 444.6C882.5 443.4 889.5 440.2 894.8 437.2C900.1 434.2 907.9 429.4 911.7 426.6C915.6 423.8 917 421.3 918.1 420.3"/><path class="k" d="M918.1 420.3C920.9 422 928 427.5 935 430.8C942.1 434.2 951.8 438.8 960.4 440.4C969.1 442 982.5 440.4 986.9 440.4"/><path class="k" d="M986.9 440.4C988.8 439.1 995.2 436.7 998.5 433C1001.9 429.3 1005.1 421.3 1007 418.1C1008.8 415 1009.1 414.6 1009.5 413.9"/><path class="k" d="M1009.5 413.9C1012.3 412.3 1019.4 406 1026 404.4C1032.7 402.8 1045.4 404.4 1049.3 404.4"/><path class="k" d="M1049.3 404.4C1051.4 402.5 1058.5 397.5 1062 392.8C1065.5 388 1068.5 382.2 1070.5 375.8C1072.4 369.5 1073.5 361.7 1073.7 354.7C1073.8 347.6 1071.9 337 1071.5 333.5"/><path class="k" d="M1071.5 333.5C1074.9 331.7 1086.9 326.8 1091.6 322.9C1096.4 319 1098.2 313 1100.1 310.2C1102 307.4 1102.8 306.7 1103.3 306"/><path class="k" d="M1103.3 306L1098 290.1"/><path class="k" d="M1098 290.1C1100.5 291.3 1109.1 296.3 1112.8 297.5C1116.5 298.7 1118.8 297.5 1120 297.5"/><path class="t" d="M930.8 281.6C934 284.3 942.8 291 949.8 297.5C956.9 304 965.7 312.3 973.1 320.8C980.5 329.3 988.6 340.2 994.3 348.3C999.9 356.4 1003.9 363.3 1007 369.5C1010.1 375.6 1011.9 382.7 1012.9 385.3"/><path class="t" d="M951.3 324.4C954.3 326.9 962.4 332.9 969.3 339.6C976.2 346.3 986.9 357.7 992.6 364.6C998.3 371.5 1001.3 377 1003.4 380.9C1005.5 384.8 1005 386.9 1005.3 388.1"/><path class="t" d="M1005.3 388.1L1012.9 385.3"/><path class="t" d="M1005.3 388.1C1005 391.3 1004.9 401.5 1003.8 407.6C1002.7 413.6 1000.5 419.6 998.5 424.5C996.6 429.4 993.2 435.1 992.2 437.2"/><path class="t" d="M1012.9 385.3C1012.6 388 1011.8 396.5 1011.2 401.2C1010.7 406 1009.8 411.8 1009.5 413.9"/><path class="t" d="M901.2 320.8C902.6 324 907.5 332.4 909.6 339.8C911.7 347.2 913.5 356.4 913.9 365.2C914.2 374.1 913.2 384.6 911.7 392.8C910.3 400.9 908.6 406.5 905.4 413.9C902.2 421.3 894.8 433.3 892.7 437.2"/><path class="t" d="M928.5 397C928 399.1 927.2 405.8 925.5 409.7C923.8 413.6 919.3 418.5 918.1 420.3"/><path class="t" d="M975.2 319.7C977.4 318.5 985.1 314.8 987.9 312.3C990.8 309.9 990.4 306.5 992.2 304.9C993.9 303.3 998 302.3 998.5 302.8C999 303.3 997.1 306.5 995.3 308.1C993.6 309.7 989.2 311.6 987.9 312.3"/><path class="t" d="M994.3 299.6C996.4 299.3 1002 297 1007 297.5C1011.9 298 1018.3 299.6 1023.9 302.8C1029.6 306 1035.9 311.4 1040.8 316.6C1045.8 321.7 1050 327.5 1053.5 333.5C1057.1 339.5 1060.1 346.5 1062 352.5C1064 358.5 1064.8 363.5 1065.2 369.5C1065.5 375.5 1065.4 383.6 1064.1 388.5C1062.9 393.5 1058.8 397.3 1057.8 399.1"/><path class="t" d="M1011.2 270C1014 272.1 1022.5 277.4 1028.1 282.7C1033.8 288 1040.9 295.7 1045.1 301.7C1049.2 307.7 1050.5 312.3 1053.1 318.7C1055.7 325.1 1058.6 334.6 1060.5 340.1C1062.5 345.5 1064.2 349.6 1065 351.5"/><path class="t" d="M1065 351.5L1072.6 348.3"/><path class="t" d="M1065 351.5C1065.6 354.5 1068.6 363.3 1068.8 369.5C1069 375.6 1067.7 383.6 1066.2 388.5C1064.8 393.5 1062.7 396.5 1059.9 399.1C1057.1 401.7 1051.1 403.5 1049.3 404.4"/><path class="t" d="M1034.5 270C1037 272.8 1044.7 280.6 1049.3 286.9C1053.9 293.3 1058.8 302.1 1062 308.1C1065.2 314.1 1066.8 318.7 1068.4 322.9C1069.9 327.1 1071 331.7 1071.5 333.5"/><path class="t" d="M1067.3 270C1068 272.8 1070.7 280.9 1071.5 286.9C1072.4 292.9 1073.3 300.3 1072.6 306C1071.9 311.6 1067.7 316.2 1067.3 320.8C1066.9 325.4 1069.9 331.4 1070.5 333.5"/><path class="t" d="M1071.5 333.5L1084.2 318.7L1100.1 310.2"/><path class="t" d="M1084.2 318.7L1076.8 291.2L1070.5 270"/><path class="t" d="M1091.6 270L1098 290.1"/><path class="t" d="M1092.9 299.4A7.6 4.4 60 1 1 1085.3 286.3A7.6 4.4 60 1 1 1092.9 299.4Z"/><path class="t" d="M1028.1 404.4C1030.3 403 1036.6 397.9 1040.8 395.9C1045.1 394 1052.1 392.2 1053.5 392.8C1055 393.4 1050 398.4 1049.3 399.5"/><path class="k" d="M1109.3 153.3C1110.2 152.2 1112 149 1114.6 146.9C1117.3 144.8 1120.3 143.4 1125.2 140.6C1130.1 137.8 1141.1 131.8 1144.2 130"/><path class="k" d="M1076.5 329.9C1079 328.5 1087.3 324.5 1091.3 321.5C1095.4 318.5 1098.9 314.9 1100.9 311.9C1102.8 308.9 1103.3 306.6 1103 303.5C1102.6 300.3 1099.5 294.7 1098.8 292.9"/><path class="k" d="M1098.8 292.9C1101 293.6 1106.7 296.4 1112.5 297.1C1118.3 297.8 1128.4 297.8 1133.7 297.1C1138.9 296.4 1140.9 294.7 1144.2 292.9C1147.6 291.1 1152.2 287.6 1153.8 286.5"/><path class="k" d="M1153.8 286.5C1155.7 288 1161 292.7 1165.4 295C1169.8 297.3 1176 299.8 1180.2 300.3C1184.4 300.8 1186.9 300.1 1190.8 298.2C1194.7 296.2 1200.3 292.7 1203.5 288.7C1206.6 284.6 1208.1 278.1 1209.8 273.9C1211.6 269.6 1213.3 265 1214 263.3"/><path class="k" d="M1214 263.3C1215.8 262.6 1220 259.4 1224.6 259C1229.2 258.7 1237.3 261 1241.6 261.2C1245.8 261.3 1248.6 260.3 1250 260.1"/><path class="t" d="M1073.4 218.9L1098.8 292.9"/><path class="t" d="M1054.3 229.4L1063.8 256.9L1074.4 290.8L1082.9 318.3"/><path class="t" d="M1082.9 318.3L1099.8 309.8"/><path class="t" d="M1082.9 318.3L1076.5 329.9"/><path class="t" d="M1075.4 249.9A8.2 4.7 60 1 1 1067.2 235.7A8.2 4.7 60 1 1 1075.4 249.9Z"/><path class="t" d="M1093.3 300A8.2 4.7 60 1 1 1085.1 285.8A8.2 4.7 60 1 1 1093.3 300Z"/><path class="t" d="M1109.3 153.3C1111.3 155.4 1116.2 163 1121 166C1125.7 169 1134.2 169 1137.9 171.3C1141.6 173.5 1142.3 178.3 1143.2 179.7"/><path class="t" d="M1137.9 171.3L1121 179.7"/><path class="t" d="M1113.6 179.1C1114.8 179.2 1118.9 178.2 1121 179.7C1123.1 181.2 1125.4 186.8 1126.3 188.2"/><path class="t" d="M1126.3 188.2L1143.2 179.7"/><path class="t" d="M1126.3 188.2L1140 225.2L1152.7 261.2L1158 276"/><path class="t" d="M1143.2 179.7L1156.9 218.9L1167.5 248.5L1173.9 266.5"/><path class="t" d="M1158 276L1173.9 266.5"/><path class="t" d="M1158 276L1153.8 286.5"/><path class="t" d="M1144.7 208.6A8.2 4.7 60 1 1 1136.5 194.4A8.2 4.7 60 1 1 1144.7 208.6Z"/><path class="t" d="M1162.7 259.4A8.2 4.7 60 1 1 1154.5 245.2A8.2 4.7 60 1 1 1162.7 259.4Z"/><path class="t" d="M1157.3 184A5 2.9 60 1 1 1152.3 175.4A5 2.9 60 1 1 1157.3 184Z"/><path class="t" d="M1117.8 159.6C1119 159.1 1123.7 157.9 1125.2 156.4C1126.7 155 1126.6 152 1126.9 151.2"/><path class="t" d="M1127.3 140.6C1129.4 140.8 1135.8 140.4 1140 141.6C1144.2 142.9 1148.5 145 1152.7 148C1156.9 151 1161.2 154.9 1165.4 159.6C1169.6 164.4 1173.9 170.9 1178.1 176.5C1182.3 182.2 1187.3 188.2 1190.8 193.5C1194.3 198.8 1197.1 203 1199.2 208.3C1201.4 213.6 1202.9 219.9 1203.5 225.2C1204 230.5 1203.1 235.4 1202.4 240C1201.7 244.6 1201.2 248.8 1199.2 252.7C1197.3 256.6 1194.3 260.8 1190.8 263.3C1187.3 265.7 1180.9 267 1178.1 267.5C1175.3 268 1174.6 266.6 1173.9 266.5"/><path class="t" d="M1173.9 258C1175.3 257.2 1179.7 253.8 1182.3 253.1C1185 252.4 1188.5 253.7 1189.7 253.8"/><path class="t" d="M1169.6 274.9C1171.7 275.4 1178.1 277.4 1182.3 278.1C1186.5 278.8 1192.9 279 1195 279.1"/><path class="t" d="M1195 279.1L1190.8 295"/><path class="t" d="M1195 279.1L1203.5 248.5L1211.9 228.4"/><path class="t" d="M1197.1 199.8C1197.8 202.3 1200.3 209.3 1201.4 214.6C1202.4 219.9 1203.4 225.9 1203.5 231.5C1203.5 237.2 1202.1 245.6 1201.8 248.5"/><path class="t" d="M1154.8 135.3L1165.4 130"/><path class="t" d="M1144.2 130C1146 130.9 1151.3 131.8 1154.8 135.3C1158.3 138.8 1160.8 143.9 1165.4 151.2C1170 158.4 1177 170.5 1182.3 178.7C1187.6 186.8 1192.7 193.8 1197.1 199.8C1201.5 205.8 1206.8 212.2 1208.8 214.6"/><path class="t" d="M1173.9 130L1190.8 153.3L1209.8 185L1226.7 209.3"/><path class="t" d="M1208.8 214.6L1226.7 209.3"/><path class="t" d="M1208.8 214.6L1211.9 228.4"/><path class="t" d="M1211.9 228.4L1228.9 221"/><path class="t" d="M1226.7 209.3C1227.3 210.2 1229.6 212.7 1229.9 214.6C1230.3 216.6 1229 219.9 1228.9 221"/><path class="t" d="M1228.9 221L1220.4 244.2L1214 263.3"/><path class="t" d="M1180.1 155.1A8.2 4.7 60 1 1 1171.9 140.9A8.2 4.7 60 1 1 1180.1 155.1Z"/><path class="t" d="M1210.1 199.5A8.2 4.7 60 1 1 1201.9 185.3A8.2 4.7 60 1 1 1210.1 199.5Z"/><path class="t" d="M1191.8 156.4C1194.1 156.4 1200.8 154.9 1205.6 156.4C1210.3 158 1215.8 161.9 1220.4 166C1225 170 1229.2 175.5 1233.1 180.8C1237 186.1 1240.8 192.8 1243.7 197.7C1246.5 202.6 1249 208.3 1250 210.4"/><path class="t" d="M1215.1 262.2C1217 261.2 1223 257.5 1226.7 255.9C1230.4 254.3 1235.2 252.8 1237.3 252.7C1239.4 252.6 1239.1 254.8 1239.4 255.2"/><path class="k" d="M1250.3 74.9C1251.4 73.4 1253.6 69 1257 66C1260.3 63 1265.2 60.2 1270.4 57C1275.7 53.8 1283.2 49.2 1288.4 46.9C1293.6 44.6 1297.4 43.3 1301.8 43.1C1306.3 42.9 1310.1 43.3 1315.3 45.8C1320.5 48.3 1327.6 53.1 1333.2 58.1C1338.8 63.2 1344.4 70.1 1348.9 76.1C1353.4 82 1357 87.7 1360.1 94C1363.3 100.4 1366.2 107.8 1368 114.2C1369.8 120.5 1370.9 125.8 1370.7 132.1C1370.5 138.5 1369 146.7 1366.9 152.3C1364.7 157.9 1363.5 161.5 1357.9 165.8C1352.3 170.1 1338.8 175.1 1333.2 178.1C1327.6 181.1 1325.8 182.8 1324.3 183.7"/><path class="k" d="M1324.3 183.7C1322.8 183.8 1318.3 184.2 1315.3 184.2C1312.3 184.2 1307.8 183.8 1306.3 183.7"/><path class="k" d="M1241.3 73.2C1242.4 73.3 1246.5 73.3 1248 73.8C1249.5 74.3 1249.9 75.7 1250.3 76.1"/><path class="t" d="M1252.5 73.8C1254 72.1 1257.4 65.8 1261.5 63.7C1265.6 61.7 1271.6 60.7 1277.2 61.5C1282.8 62.2 1289.1 64.3 1295.1 68.2C1301.1 72.1 1307.4 78.5 1313.1 85C1318.7 91.6 1324.5 99.6 1328.8 107.5C1333 115.3 1337 124.7 1338.8 132.1C1340.7 139.6 1340.9 145.6 1340 152.3C1339 159 1335.9 167.6 1333.2 172.5C1330.6 177.4 1325.8 180 1324.3 181.5"/><path class="t" d="M1254.7 77.2C1256.2 75.7 1260 70.1 1263.7 68.2C1267.5 66.3 1272.3 65.2 1277.2 66C1282 66.7 1287.6 69.2 1292.9 72.7C1298.1 76.3 1303.5 81.3 1308.6 87.3C1313.6 93.3 1319.2 101.1 1323.1 108.6C1327.1 116.1 1330.2 124.8 1332.1 132.1C1334 139.4 1334.9 146 1334.4 152.3C1333.8 158.7 1331.2 165.6 1328.8 170.3C1326.3 174.9 1322.8 178.5 1319.8 180.3C1316.8 182.2 1312.3 181.3 1310.8 181.5"/><path class="t" d="M1264 86A5 2.9 60 1 1 1259 77.3A5 2.9 60 1 1 1264 86Z"/><path class="k" d="M1144.2 129.9L1158.3 119.8"/><path class="k" d="M1158.3 119.8C1159.6 120 1163.5 119.1 1166.2 120.9C1168.8 122.8 1172.7 129.3 1174 131"/><path class="k" d="M1174 131C1174.6 129 1175.7 122.6 1177.4 118.7C1179.1 114.8 1181.3 110.6 1184.1 107.5C1186.9 104.3 1188.8 103 1194.2 99.6C1199.6 96.3 1208.8 91.7 1216.6 87.3C1224.5 82.9 1237.2 75.5 1241.3 73.2"/><path class="k" d="M1306.3 183.7C1305.6 186.3 1303.7 193.8 1301.8 199.4C1300 205 1297.7 213.2 1295.1 217.4C1292.5 221.5 1288.2 222 1286.1 224.1C1284.1 226.1 1283.3 228.8 1282.8 229.7"/><path class="k" d="M1252.9 259.1C1254.7 258.2 1259.5 256.4 1263.4 253.3C1267.3 250.2 1272.9 245 1276.2 240.5C1279.5 236.1 1280.5 230 1283.2 226.6C1285.9 223.1 1291 220.7 1292.5 219.6"/><path class="t" d="M1216.6 87.3C1218.3 89 1222.7 92.5 1226.7 97.4C1230.7 102.2 1236.8 111 1240.8 116.4C1244.8 121.9 1247.5 125.4 1250.7 129.9C1254 134.4 1256.3 137 1260.3 143.3C1264.4 149.7 1271 161.7 1274.9 168C1278.9 174.4 1282.4 179.2 1283.9 181.5"/><path class="t" d="M1241.3 73.2C1243.5 75.5 1249.5 80.8 1254.7 87.3C1260 93.7 1267.3 104.8 1272.7 111.9C1278.1 119.1 1283.3 125 1287 129.9C1290.8 134.7 1291.9 135.5 1295.1 141.1C1298.3 146.7 1303.7 159 1306.3 163.5C1308.9 168 1310.2 165.8 1310.8 168C1311.4 170.3 1310.4 174.4 1309.7 177C1308.9 179.6 1306.9 182.6 1306.3 183.7"/><path class="t" d="M1285 188.2L1308.6 174.7"/><path class="t" d="M1283.9 181.5C1284.1 182.6 1285.8 183.3 1285 188.2C1284.3 193.1 1281.5 203.7 1279.4 210.6C1277.4 217.5 1273.8 226.5 1272.7 229.7"/><path class="t" d="M1269.2 221.9L1261.1 253.3"/><path class="t" d="M1249.9 115A8.2 4.7 60 1 1 1241.7 100.8A8.2 4.7 60 1 1 1249.9 115Z"/><path class="t" d="M1280.1 159.4A8.2 4.7 60 1 1 1271.9 145.2A8.2 4.7 60 1 1 1280.1 159.4Z"/></g><clipPath id="crk1"><rect x="960" y="220" width="140" height="120"/></clipPath><g clip-path="url(#crk1)"><path class="k" d="M960 233.3L965.1 232.7"/><path class="t" d="M960 240.3C961.9 240.8 967.8 241.7 971.4 242.9C975 244 978 245 981.6 247.3C985.2 249.6 989 253.6 993 256.8C997.1 260.1 1001.7 263.8 1005.7 267C1009.8 270.2 1013.6 272.7 1017.2 275.9C1020.8 279.1 1024.2 282.5 1027.3 286.1C1030.5 289.7 1033.5 293.7 1036.2 297.5C1039 301.3 1041.3 304.9 1043.9 308.9C1046.4 313 1049.4 317.8 1051.5 321.6C1053.6 325.5 1055.1 328.7 1056.6 331.8C1058 334.9 1059.7 338.7 1060.4 340.1"/><path class="t" d="M960 233.7C961.7 233.4 967 232.3 970.2 232.1C973.3 231.8 975.7 231.6 979.1 232.1C982.4 232.5 986.7 233.3 990.5 234.6C994.3 235.9 998.1 237 1001.9 239.7C1005.7 242.3 1009.8 247.2 1013.4 250.5C1017 253.8 1020.3 256.2 1023.5 259.4C1026.7 262.6 1029.5 265.9 1032.4 269.5C1035.4 273.1 1038.3 277.2 1041.3 281C1044.3 284.8 1047.5 288.6 1050.2 292.4C1053 296.2 1055.5 300 1057.8 303.9C1060.2 307.7 1062.5 311.7 1064.2 315.3C1065.9 318.9 1066.9 322.3 1068 325.5C1069.1 328.6 1070.1 332.9 1070.5 334.3"/><path class="t" d="M979.1 231.7C979.5 230.6 980.9 227 981.6 225.1C982.3 223.1 983.2 220.8 983.5 220"/><path class="t" d="M990.5 234.6C991 233.4 992.4 229.5 993.7 227.6C994.9 225.7 996.3 224.4 998.1 223.2C999.9 221.9 1003.4 220.5 1004.5 220"/><path class="t" d="M990.5 234.6C991.3 234.1 994.2 232.5 995.6 231.4C996.9 230.4 998.2 228.8 998.7 228.3"/><path class="t" d="M1018.4 220C1019.7 220.4 1023.5 221.5 1026.1 222.5C1028.6 223.6 1030.7 224.4 1033.7 226.4C1036.7 228.3 1040.7 231 1043.9 234C1047 236.9 1050 240.8 1052.7 244.1C1055.5 247.5 1058.3 251.1 1060.4 254.3C1062.5 257.5 1064 260 1065.5 263.2C1066.9 266.4 1068.2 270 1069.3 273.4C1070.3 276.7 1071.2 279.7 1071.8 283.5C1072.4 287.3 1073 292.2 1073.1 296.2C1073.2 300.3 1073.1 304.3 1072.4 307.7C1071.8 311.1 1070.2 314.2 1069.3 316.6C1068.3 318.9 1067.1 320.8 1066.7 321.6"/><path class="t" d="M1041.3 220C1042.6 220.3 1047 221 1048.9 221.9C1050.8 222.9 1051.9 224.6 1052.7 225.7C1053.6 226.9 1053.8 228.4 1054 228.9"/><path class="t" d="M1054 228.9L1070.5 220"/><path class="t" d="M1054 228.9L1060.4 251.8L1066.7 274.6L1074.3 298.8L1084.5 317.8"/><path class="t" d="M1073.1 220L1080.7 241.6L1089.6 264.5L1100 291.8"/><path class="t" d="M1080.7 240.3C1082 239.7 1086 238.2 1088.3 236.5C1090.6 234.8 1093.1 232.9 1094.7 230.2C1096.3 227.4 1097.3 221.7 1097.8 220"/><path class="t" d="M1075.8 250.2A8.5 4.9 60 1 1 1067.3 235.5A8.5 4.9 60 1 1 1075.8 250.2Z"/><path class="t" d="M1093.8 300.2A8.5 4.9 60 1 1 1085.3 285.4A8.5 4.9 60 1 1 1093.8 300.2Z"/><path class="t" d="M1084.5 317.8L1100 308.9"/><path class="t" d="M1084.5 317.8C1084.1 319.1 1084.3 322.8 1082 325.5C1079.6 328.1 1072.4 332.3 1070.5 333.7"/><path class="k" d="M1070.5 340.1L1070.5 333.7L1087 325.5L1093.4 320.4L1100 314.7"/><path class="t" d="M1066.7 321.6C1067.1 323.1 1068.6 328.5 1069.3 330.5C1069.9 332.5 1070.3 333.2 1070.5 333.7"/><path class="t" d="M975.2 319.7C977.3 318.7 984.4 315.2 987.3 313.4C990.3 311.6 991.1 310.6 993 308.9C994.9 307.2 997.8 304.2 998.7 303.2"/><path class="t" d="M987.3 313.4C987.8 312 988.9 307.5 990.5 305.1C992.1 302.8 994.5 300.7 996.8 299.4C999.2 298.1 1001.7 297.5 1004.5 297.2C1007.2 297 1009.8 296.9 1013.4 297.8C1017 298.6 1022.3 300.7 1026.1 302.6C1029.9 304.4 1032.8 306.2 1036.2 308.9C1039.6 311.7 1043.5 315.7 1046.4 319.1C1049.3 322.5 1051.5 325.8 1053.4 329.3C1055.2 332.8 1056.9 338.3 1057.6 340.1"/><path class="t" d="M960 306.4C961.3 307.7 964.9 311.3 967.6 314C970.4 316.8 974 319.9 976.5 322.9C979.1 325.9 980.9 328.9 982.9 331.8C984.9 334.7 987.6 338.7 988.6 340.1"/><path class="t" d="M960 330.5L968.9 340.1"/></g><clipPath id="crk2"><rect x="1200" y="130" width="140" height="120"/></clipPath><g clip-path="url(#crk2)"><path class="t" d="M1250.8 130C1252.3 132.1 1256.7 138.5 1259.7 142.7C1262.7 146.9 1265.9 151.4 1268.6 155.4C1271.4 159.4 1274.1 163.7 1276.2 166.8C1278.3 170 1280 171.9 1281.3 174.5C1282.6 177 1283.3 179.9 1283.9 182.1C1284.4 184.3 1284.7 186.9 1284.9 187.8"/><path class="t" d="M1287 130C1288.6 132.5 1293.5 140.6 1296.6 145.2C1299.6 149.9 1303.2 154.8 1305.5 158C1307.7 161.1 1309 162.2 1309.9 164.3C1310.8 166.4 1310.9 168.5 1310.8 170.7C1310.7 172.8 1309.7 175.3 1309.3 177C1308.8 178.7 1308.2 180.2 1308 180.8"/><path class="t" d="M1280.5 159.6A8.5 4.9 60 1 1 1272 144.9A8.5 4.9 60 1 1 1280.5 159.6Z"/><path class="t" d="M1284.9 187.8L1308 174.7"/><path class="t" d="M1284.9 187.8L1276.2 212.6L1268.6 234.2L1262.3 250.1"/><path class="k" d="M1306.1 184L1301.6 197.3L1296.6 212.6L1293.4 220.2L1283.9 226.6L1281.3 231.6L1268 250.1"/><path class="k" d="M1306.1 184C1307.5 183.9 1311.7 183.5 1314.3 183.4C1317 183.3 1319.4 184 1322 183.4C1324.5 182.7 1326.6 181.1 1329.6 179.5C1332.6 178 1338.3 174.8 1340 173.8"/><path class="t" d="M1308 180.8L1306.1 184"/><path class="t" d="M1308 180.8C1309.7 180.7 1315.2 180.6 1318.2 180.2C1321.1 179.8 1323.7 179.7 1325.8 178.3C1327.9 176.9 1329.6 174.7 1330.9 171.9C1332.1 169.2 1332.8 166.2 1333.4 161.8C1334 157.3 1334.9 150.5 1334.7 145.2C1334.5 140 1332.6 132.5 1332.1 130"/><path class="t" d="M1340 169.4C1339.3 170 1337.7 171.6 1335.9 173.2C1334.2 174.8 1330.6 178 1329.6 178.9"/><path class="t" d="M1200 156C1201.3 156.5 1204.7 157.1 1207.6 158.6C1210.6 160.1 1214.2 162.3 1217.8 164.9C1221.4 167.6 1225.2 170.1 1229.2 174.5C1233.2 178.8 1238.5 185.3 1241.9 191C1245.3 196.7 1247.6 202.4 1249.5 208.8C1251.5 215.1 1252.9 223.6 1253.4 229.1C1253.8 234.6 1252.7 238.3 1252.1 241.8C1251.5 245.3 1250 248.7 1249.5 250.1"/><path class="t" d="M1200 168.7C1202.1 171.8 1208.7 181.1 1212.7 187.2C1216.7 193.2 1221.5 200.7 1224.1 205C1226.8 209.2 1227.6 210 1228.6 212.6C1229.5 215.1 1229.6 218.9 1229.9 220.2"/><path class="t" d="M1207.6 214.5L1224.8 206.2"/><path class="t" d="M1212.1 228.5L1229.5 220.2"/><path class="t" d="M1200 205C1201.3 206.5 1205.8 211.7 1207.6 214.5C1209.4 217.2 1210.1 219.1 1210.8 221.5C1211.5 223.8 1211.9 227.3 1212.1 228.5"/><path class="t" d="M1212.1 228.5L1207.6 240.5L1205.1 250.1"/><path class="t" d="M1229.5 220.2L1224.1 234.2L1219.1 250.1"/><path class="t" d="M1210 199.6A8.5 4.9 60 1 1 1201.5 184.9A8.5 4.9 60 1 1 1210 199.6Z"/><path class="t" d="M1200 211.3C1200.4 213.9 1202.1 220.1 1202.5 226.6C1203 233 1202.5 246.1 1202.5 250.1"/></g></g>
<g id="p_gear5"><path class="wk" d="M1298.8 485A65.8 38 60 0 1 1233 371L1260.3 355.2A65.8 38 60 0 1 1326.1 469.2Z"/><path d="M1297.8 485.2L1299.7 492.6L1298.4 493.2L1293.3 486.9L1294.6 494.2L1293.1 494.5L1288.4 487.7L1289 494.7L1287.3 494.7L1283.2 487.6L1283 494.2L1281.3 493.9L1277.7 486.5L1276.7 492.6L1275 492L1271.9 484.5L1270.3 490L1268.5 489.1L1266.1 481.6L1263.8 486.5L1262 485.3L1260.3 477.9L1257.4 482L1255.6 480.6L1254.6 473.4L1251.1 476.6L1249.3 475L1249.1 468.2L1245 470.5L1243.3 468.7L1243.8 462.3L1239.2 463.8L1237.7 461.8L1238.9 455.9L1233.9 456.4L1232.5 454.3L1234.4 449L1229 448.6L1227.8 446.4L1230.4 441.9L1224.8 440.5L1223.7 438.2L1226.9 434.5L1221.2 432.2L1220.3 429.8L1224.1 427L1218.3 423.8L1217.6 421.5L1221.9 419.5L1216.1 415.5L1215.6 413.2L1220.4 412.1L1214.7 407.4L1214.5 405.2L1219.6 405L1214.2 399.6L1214.2 397.5L1219.6 398.3L1214.4 392.2L1214.6 390.3L1220.3 392L1215.5 385.5L1215.9 383.7L1221.7 386.3L1217.4 379.4L1218 377.8L1223.8 381.3L1220 374L1220.8 372.7L1226.6 377L1223.3 369.5L1224.4 368.4L1230 373.5L1227.3 366L1228.6 365.1L1233.9 370.8L1232 363.4L1233.4 362.8L1238.4 369.1L1237.1 361.8L1238.7 361.5L1243.3 368.3L1242.7 361.3L1244.4 361.3L1248.5 368.4L1248.7 361.8L1250.4 362.1L1254.1 369.5L1255 363.4L1256.7 364L1259.8 371.5L1261.4 366L1263.2 366.9L1265.6 374.4L1267.9 369.5L1269.7 370.7L1271.4 378.1L1274.3 374L1276.1 375.4L1277.1 382.6L1280.7 379.4L1282.4 381L1282.6 387.8L1286.7 385.5L1288.4 387.3L1287.9 393.7L1292.5 392.2L1294 394.2L1292.8 400.1L1297.8 399.6L1299.3 401.7L1297.4 407L1302.7 407.4L1303.9 409.6L1301.4 414.1L1306.9 415.5L1308 417.8L1304.8 421.5L1310.5 423.8L1311.4 426.2L1307.6 429L1313.5 432.2L1314.1 434.5L1309.8 436.5L1315.6 440.5L1316.1 442.8L1311.3 443.9L1317 448.6L1317.2 450.8L1312.1 451L1317.5 456.4L1317.5 458.5L1312.1 457.7L1317.3 463.8L1317.1 465.7L1311.4 464L1316.2 470.5L1315.8 472.3L1310 469.7L1314.4 476.6L1313.7 478.2L1307.9 474.7L1311.7 482L1310.9 483.3L1305.1 479L1308.4 486.5L1307.3 487.6L1301.7 482.5L1304.4 490L1303.1 490.9Z" fill="#fff" stroke="#000" stroke-width="2"/><g fill="#fff" stroke="#000" stroke-width="1"><path d="M1235.2 476.2L1231.1 478.5L1245 470.5L1249.1 468.2Z"/><path d="M1203.7 429.5L1208 427.5L1221.9 419.5L1217.6 421.5Z"/><path d="M1240.8 481.4L1237.2 484.6L1251.1 476.6L1254.6 473.4Z"/><path d="M1201.8 421.2L1206.6 420.1L1220.4 412.1L1215.6 413.2Z"/><path d="M1246.5 485.9L1243.5 490L1257.4 482L1260.3 477.9Z"/><path d="M1200.6 413.2L1205.8 413L1219.6 405L1214.5 405.2Z"/><path d="M1252.3 489.6L1250 494.5L1263.8 486.5L1266.1 481.6Z"/><path d="M1200.3 405.5L1205.8 406.3L1219.6 398.3L1214.2 397.5Z"/><path d="M1258.1 492.5L1256.5 498L1270.3 490L1271.9 484.5Z"/><path d="M1200.8 398.3L1206.4 400L1220.3 392L1214.6 390.3Z"/><path d="M1263.8 494.5L1262.9 500.6L1276.7 492.6L1277.7 486.5Z"/><path d="M1202.1 391.7L1207.9 394.3L1221.7 386.3L1215.9 383.7Z"/><path d="M1269.3 495.6L1269.1 502.2L1283 494.2L1283.2 487.6Z"/><path d="M1204.2 385.8L1210 389.3L1223.8 381.3L1218 377.8Z"/><path d="M1274.6 495.7L1275.1 502.7L1289 494.7L1288.4 487.7Z"/><path d="M1207 380.7L1212.7 385L1226.6 377L1220.8 372.7Z"/><path d="M1279.5 494.9L1280.7 502.2L1294.6 494.2L1293.3 486.9Z"/><path d="M1210.5 376.4L1216.1 381.5L1230 373.5L1224.4 368.4Z"/><path d="M1283.9 493.2L1285.9 500.6L1299.7 492.6L1297.8 485.2Z"/><path d="M1214.7 373.1L1220.1 378.8L1233.9 370.8L1228.6 365.1Z"/><path d="M1290.5 498L1289.3 498.9L1303.1 490.9L1304.4 490Z"/><path d="M1287.9 490.5L1290.5 498L1304.4 490L1301.7 482.5Z"/><path d="M1218.1 371.4L1219.5 370.8L1233.4 362.8L1232 363.4Z"/><path d="M1219.5 370.8L1224.5 377.1L1238.4 369.1L1233.4 362.8Z"/><path d="M1294.5 494.5L1293.5 495.6L1307.3 487.6L1308.4 486.5Z"/><path d="M1291.3 487L1294.5 494.5L1308.4 486.5L1305.1 479Z"/><path d="M1223.3 369.8L1224.8 369.5L1238.7 361.5L1237.1 361.8Z"/><path d="M1224.8 369.5L1229.4 376.3L1243.3 368.3L1238.7 361.5Z"/><path d="M1297.9 490L1297 491.3L1310.9 483.3L1311.7 482Z"/><path d="M1294 482.7L1297.9 490L1311.7 482L1307.9 474.7Z"/><path d="M1228.9 369.3L1230.5 369.3L1244.4 361.3L1242.7 361.3Z"/><path d="M1230.5 369.3L1234.7 376.4L1248.5 368.4L1244.4 361.3Z"/><path d="M1300.5 484.6L1299.8 486.2L1313.7 478.2L1314.4 476.6Z"/><path d="M1296.1 477.7L1300.5 484.6L1314.4 476.6L1310 469.7Z"/><path d="M1234.9 369.8L1236.6 370.1L1250.4 362.1L1248.7 361.8Z"/><path d="M1236.6 370.1L1240.2 377.5L1254.1 369.5L1250.4 362.1Z"/><path d="M1302.4 478.5L1301.9 480.3L1315.8 472.3L1316.2 470.5Z"/><path d="M1297.6 472L1302.4 478.5L1316.2 470.5L1311.4 464Z"/><path d="M1241.1 371.4L1242.9 372L1256.7 364L1255 363.4Z"/><path d="M1242.9 372L1245.9 379.5L1259.8 371.5L1256.7 364Z"/><path d="M1298.2 465.7L1303.4 471.8L1317.3 463.8L1312.1 457.7Z"/><path d="M1303.4 471.8L1303.2 473.7L1317.1 465.7L1317.3 463.8Z"/><path d="M1249.3 374.9L1251.7 382.4L1265.6 374.4L1263.2 366.9Z"/><path d="M1247.5 374L1249.3 374.9L1263.2 366.9L1261.4 366Z"/><path d="M1298.2 459L1303.7 464.4L1317.5 456.4L1312.1 451Z"/><path d="M1303.7 464.4L1303.7 466.5L1317.5 458.5L1317.5 456.4Z"/><path d="M1255.8 378.7L1257.5 386.1L1271.4 378.1L1269.7 370.7Z"/><path d="M1254 377.5L1255.8 378.7L1269.7 370.7L1267.9 369.5Z"/><path d="M1297.4 451.9L1303.1 456.6L1317 448.6L1311.3 443.9Z"/><path d="M1303.1 456.6L1303.4 458.8L1317.2 450.8L1317 448.6Z"/><path d="M1262.3 383.4L1263.2 390.6L1277.1 382.6L1276.1 375.4Z"/><path d="M1260.5 382L1262.3 383.4L1276.1 375.4L1274.3 374Z"/><path d="M1296 444.5L1301.7 448.5L1315.6 440.5L1309.8 436.5Z"/><path d="M1268.5 389L1268.8 395.8L1282.6 387.8L1282.4 381Z"/><path d="M1301.7 448.5L1302.2 450.8L1316.1 442.8L1315.6 440.5Z"/><path d="M1293.8 437L1299.6 440.2L1313.5 432.2L1307.6 429Z"/><path d="M1266.8 387.4L1268.5 389L1282.4 381L1280.7 379.4Z"/><path d="M1297.6 434.2L1293.8 437L1307.6 429L1311.4 426.2Z"/><path d="M1274.5 395.3L1274.1 401.7L1287.9 393.7L1288.4 387.3Z"/><path d="M1274.1 401.7L1278.6 400.2L1292.5 392.2L1287.9 393.7Z"/><path d="M1299.6 440.2L1300.3 442.5L1314.1 434.5L1313.5 432.2Z"/><path d="M1291 429.5L1296.7 431.8L1310.5 423.8L1304.8 421.5Z"/><path d="M1294.2 425.8L1291 429.5L1304.8 421.5L1308 417.8Z"/><path d="M1280.2 402.2L1279 408.1L1292.8 400.1L1294 394.2Z"/><path d="M1279 408.1L1284 407.6L1297.8 399.6L1292.8 400.1Z"/><path d="M1272.9 393.5L1274.5 395.3L1288.4 387.3L1286.7 385.5Z"/><path d="M1287.5 422.1L1293.1 423.5L1306.9 415.5L1301.4 414.1Z"/><path d="M1290.1 417.6L1287.5 422.1L1301.4 414.1L1303.9 409.6Z"/><path d="M1285.4 409.7L1283.5 415L1297.4 407L1299.3 401.7Z"/><path d="M1283.5 415L1288.8 415.4L1302.7 407.4L1297.4 407Z"/><path d="M1296.7 431.8L1297.6 434.2L1311.4 426.2L1310.5 423.8Z"/><path d="M1278.6 400.2L1280.2 402.2L1294 394.2L1292.5 392.2Z"/><path d="M1293.1 423.5L1294.2 425.8L1308 417.8L1306.9 415.5Z"/><path d="M1284 407.6L1285.4 409.7L1299.3 401.7L1297.8 399.6Z"/><path d="M1288.8 415.4L1290.1 417.6L1303.9 409.6L1302.7 407.4Z"/></g><path d="M1283.9 493.2L1285.9 500.6L1284.5 501.2L1279.5 494.9L1280.7 502.2L1279.2 502.5L1274.6 495.7L1275.1 502.7L1273.5 502.7L1269.3 495.6L1269.1 502.2L1267.4 501.9L1263.8 494.5L1262.9 500.6L1261.1 500L1258.1 492.5L1256.5 498L1254.7 497.1L1252.3 489.6L1250 494.5L1248.2 493.3L1246.5 485.9L1243.5 490L1241.7 488.6L1240.8 481.4L1237.2 484.6L1235.5 483L1235.2 476.2L1231.1 478.5L1229.5 476.7L1229.9 470.3L1225.4 471.8L1223.8 469.8L1225 463.9L1220 464.4L1218.6 462.3L1220.5 457L1215.2 456.6L1213.9 454.4L1216.5 449.9L1210.9 448.5L1209.8 446.2L1213 442.5L1207.3 440.2L1206.4 437.8L1210.2 435L1204.4 431.8L1203.7 429.5L1208 427.5L1202.3 423.5L1201.8 421.2L1206.6 420.1L1200.9 415.4L1200.6 413.2L1205.8 413L1200.3 407.6L1200.3 405.5L1205.8 406.3L1200.6 400.2L1200.8 398.3L1206.4 400L1201.6 393.5L1202.1 391.7L1207.9 394.3L1203.5 387.4L1204.2 385.8L1210 389.3L1206.1 382L1207 380.7L1212.7 385L1209.5 377.5L1210.5 376.4L1216.1 381.5L1213.5 374L1214.7 373.1L1220.1 378.8L1218.1 371.4L1219.5 370.8L1224.5 377.1L1223.3 369.8L1224.8 369.5L1229.4 376.3L1228.9 369.3L1230.5 369.3L1234.7 376.4L1234.9 369.8L1236.6 370.1L1240.2 377.5L1241.1 371.4L1242.9 372L1245.9 379.5L1247.5 374L1249.3 374.9L1251.7 382.4L1254 377.5L1255.8 378.7L1257.5 386.1L1260.5 382L1262.3 383.4L1263.2 390.6L1266.8 387.4L1268.5 389L1268.8 395.8L1272.9 393.5L1274.5 395.3L1274.1 401.7L1278.6 400.2L1280.2 402.2L1279 408.1L1284 407.6L1285.4 409.7L1283.5 415L1288.8 415.4L1290.1 417.6L1287.5 422.1L1293.1 423.5L1294.2 425.8L1291 429.5L1296.7 431.8L1297.6 434.2L1293.8 437L1299.6 440.2L1300.3 442.5L1296 444.5L1301.7 448.5L1302.2 450.8L1297.4 451.9L1303.1 456.6L1303.4 458.8L1298.2 459L1303.7 464.4L1303.7 466.5L1298.2 465.7L1303.4 471.8L1303.2 473.7L1297.6 472L1302.4 478.5L1301.9 480.3L1296.1 477.7L1300.5 484.6L1299.8 486.2L1294 482.7L1297.9 490L1297 491.3L1291.3 487L1294.5 494.5L1293.5 495.6L1287.9 490.5L1290.5 498L1289.3 498.9Z" fill="#fff" stroke="#000" stroke-width="1"/><path d="M1283.9 493.2L1285.9 500.6L1284.5 501.2L1279.5 494.9L1280.7 502.2L1279.2 502.5L1274.6 495.7L1275.1 502.7L1273.5 502.7L1269.3 495.6L1269.1 502.2L1267.4 501.9L1263.8 494.5L1262.9 500.6L1261.1 500L1258.1 492.5L1256.5 498L1254.7 497.1L1252.3 489.6L1250 494.5L1248.2 493.3L1246.5 485.9L1243.5 490L1241.7 488.6L1240.8 481.4L1237.2 484.6L1235.5 483L1235.2 476.2L1231.1 478.5L1229.5 476.7L1229.9 470.3L1225.4 471.8L1223.8 469.8L1225 463.9L1220 464.4L1218.6 462.3L1220.5 457L1215.2 456.6L1213.9 454.4L1216.5 449.9L1210.9 448.5L1209.8 446.2L1213 442.5L1207.3 440.2L1206.4 437.8L1210.2 435L1204.4 431.8L1203.7 429.5L1208 427.5L1202.3 423.5L1201.8 421.2L1206.6 420.1L1200.9 415.4L1200.6 413.2L1205.8 413L1200.3 407.6L1200.3 405.5L1205.8 406.3L1200.6 400.2L1200.8 398.3L1206.4 400L1201.6 393.5L1202.1 391.7L1207.9 394.3L1203.5 387.4L1204.2 385.8L1210 389.3L1206.1 382L1207 380.7L1212.7 385L1209.5 377.5L1210.5 376.4L1216.1 381.5L1213.5 374L1214.7 373.1L1220.1 378.8L1218.1 371.4L1219.5 370.8L1224.5 377.1L1223.3 369.8L1224.8 369.5L1229.4 376.3L1228.9 369.3" fill="none" stroke="#000" stroke-width="2"/><path d="M1293.5 495.6L1287.9 490.5L1290.5 498L1289.3 498.9L1283.9 493.2" fill="none" stroke="#000" stroke-width="2"/><path class="t" d="M1265.1 459.6A26.8 15.5 60 1 1 1238.3 413.2A26.8 15.5 60 1 1 1265.1 459.6Z"/><path class="t" d="M1259.7 458.4A24.6 14.2 60 1 1 1262.3 425.3"/><path class="t" d="M1241.1 398.7A10.1 5.8 60 1 1 1231 381.2A10.1 5.8 60 1 1 1241.1 398.7Z"/><path class="t" d="M1268.4 412.9A10.1 5.8 60 1 1 1258.3 395.4A10.1 5.8 60 1 1 1268.4 412.9Z"/><path class="t" d="M1288.7 445.8A10.1 5.8 60 1 1 1278.6 428.4A10.1 5.8 60 1 1 1288.7 445.8Z"/><path class="t" d="M1289.9 478.1A10.1 5.8 60 1 1 1279.8 460.6A10.1 5.8 60 1 1 1289.9 478.1Z"/><path class="t" d="M1271.6 490.8A10.1 5.8 60 1 1 1261.5 473.3A10.1 5.8 60 1 1 1271.6 490.8Z"/><path class="t" d="M1244.3 476.6A10.1 5.8 60 1 1 1234.2 459.1A10.1 5.8 60 1 1 1244.3 476.6Z"/><path class="t" d="M1224 443.6A10.1 5.8 60 1 1 1213.9 426.2A10.1 5.8 60 1 1 1224 443.6Z"/><path class="t" d="M1222.8 411.4A10.1 5.8 60 1 1 1212.7 393.9A10.1 5.8 60 1 1 1222.8 411.4Z"/><path class="t" d="M1253.9 393.4A4.6 2.7 60 1 1 1249.3 385.5A4.6 2.7 60 1 1 1253.9 393.4Z"/><path class="t" d="M1253.9 486.5A4.6 2.7 60 1 1 1249.3 478.6A4.6 2.7 60 1 1 1253.9 486.5Z"/></g>
<g id="p_pulley"><path class="w" d="M290.4 312A66 38.1 60 0 1 224.4 197.6L262.4 173.3A66 38.1 60 0 1 328.4 287.7Z"/><path class="t" d="M265.8 177.3A59.4 34.3 60 1 1 315.7 283.9"/><path class="t" d="M268.1 181.4A55.5 32 60 0 1 314.2 281.3"/><path class="w" d="M306.6 349.3A106.4 61.4 60 0 1 200.2 165L204.7 163.4A105.5 60.9 60 0 1 310.2 346.2Z"/><path class="w" d="M303 352.4A107.3 62 60 0 1 195.7 166.5L200.2 165A106.4 61.4 60 0 1 306.6 349.3Z"/><path class="w" d="M299.4 355.5A108.2 62.5 60 0 1 191.2 168.1L195.7 166.5A107.3 62 60 0 1 303 352.4Z"/><path class="w" d="M295.8 358.6A109.1 63 60 0 1 186.7 169.6L191.2 168.1A108.2 62.5 60 0 1 299.4 355.5Z"/><path class="w" d="M292.2 361.7A110 63.5 60 0 1 182.2 171.2L186.7 169.6A109.1 63 60 0 1 295.8 358.6Z"/><path class="w" d="M288.6 364.8A110.9 64 60 0 1 177.7 172.8L182.2 171.2A110 63.5 60 0 1 292.2 361.7Z"/><path class="w" d="M288.6 364.8A110.9 64 60 1 1 177.7 172.8A110.9 64 60 1 1 288.6 364.8Z"/><path class="t" d="M219.9 178.2A103.5 59.8 60 0 1 276.6 361.7"/><path class="t" d="M280.5 352.5A96.6 55.8 60 1 1 183.9 185.1A96.6 55.8 60 1 1 280.5 352.5Z"/><path class="t" d="M188.6 202.1C187.4 202.8 183.6 204.3 181.6 206.5C179.6 208.7 177.7 212.4 176.5 215.4C175.3 218.4 174.4 222 174.2 224.3C174 226.6 174.4 227.8 175.2 229.4C176.1 231 178.4 233.1 179.1 233.8"/><path class="t" d="M179.1 233.8L179.1 248.4L175.2 251L174.6 253.5"/><path class="t" d="M182.6 233.8L182.6 248.4"/><path class="t" d="M185.4 234.5L185.4 249.1"/><path class="t" d="M179.1 233.8L185.4 234.5"/><path class="t" d="M179.1 248.4L186 249.1"/><path class="t" d="M174.6 253.5C174.9 254.8 175.6 257.3 176.5 261.1C177.5 265 178.8 272.2 180.3 276.4C181.8 280.6 183.7 283.4 185.4 286.6C187.1 289.7 188.6 293.3 190.5 295.5C192.4 297.6 194.7 298.8 196.8 299.3C199 299.7 202.1 298.2 203.2 298"/><path class="t" d="M174.6 223.7L230.5 205.2"/><path class="t" d="M183.5 233.8L229.2 219.2"/><path class="t" d="M186 249.1L229.2 233.2"/><path class="t" d="M176.5 260.5L229.9 240.2"/><path class="t" d="M189.2 292.9L238.8 265"/><path class="t" d="M203.2 298L243.9 273.2"/><path class="t" d="M204.5 299.3L244.5 274.9"/><path class="t" d="M223.5 309.4L256.6 287.2"/><path class="t" d="M238.8 309.4L264.2 292.9"/><path class="t" d="M196.8 205.5L208.9 205.5L208.9 208.4L196.8 208.4L196.8 205.5"/><path class="t" d="M188.6 202.1C189.3 202.2 191.7 202.1 193 202.7C194.4 203.3 196.2 205 196.8 205.5"/><path class="t" d="M210.2 202.7C210.7 202.4 212.2 201 213.4 200.8C214.5 200.6 215.1 200.6 217.2 201.4C219.3 202.3 223.7 204.5 226.1 205.9C228.4 207.3 230.3 209.1 231.1 209.7"/><path class="t" d="M208.9 205.5L226.1 205.9"/><path class="t" d="M231.1 209.7C230.8 211.3 229.3 215.3 229.2 219.2C229.1 223.1 229.6 227.9 230.5 233.2C231.5 238.5 232.9 245.5 235 251C237 256.5 239.8 261.6 242.6 266.2C245.3 270.9 248.3 275.1 251.5 278.9C254.7 282.7 258.3 286.3 261.6 289.1C265 291.9 268.8 294.2 271.8 295.5C274.8 296.7 278.2 296.5 279.4 296.7"/><path class="t" d="M235 212.9C234.7 214.6 233.7 219.2 233.7 223C233.7 226.8 233.9 231.1 235 235.7C236 240.4 237.9 246.1 240 251C242.2 255.9 244.9 260.7 247.7 265C250.4 269.2 253.4 272.8 256.6 276.4C259.7 280 263.3 284 266.7 286.6C270.1 289.1 274.3 290.7 276.9 291.6C279.4 292.6 281.1 292.2 282 292.3"/><path class="t" d="M235 212.9C236 213.3 239.2 213.7 241.3 215.4C243.4 217.1 245.1 219.6 247.7 223C250.2 226.4 253.6 231.3 256.6 235.7C259.5 240.2 262.5 245.3 265.5 249.7C268.4 254.2 271.8 258 274.3 262.4C276.9 266.9 279.3 272.4 280.7 276.4C282.1 280.4 282.4 283.8 282.6 286.6C282.8 289.3 282.5 291.2 282 292.9C281.4 294.6 279.8 296.1 279.4 296.7"/><path class="t" d="M203.2 298C203.6 299.1 204.8 302.3 205.7 304.3C206.7 306.4 208.4 309.1 208.9 310.1"/><path class="t" d="M205.7 298C206.2 298.8 207.2 301.1 208.3 303.1C209.3 305.1 211.5 308.9 212.1 310.1"/><path class="t" d="M248.7 243.6A8.4 4.9 60 1 1 240.3 229.1A8.4 4.9 60 1 1 248.7 243.6Z"/><path class="t" d="M258.9 270.1A8.4 4.9 60 1 1 250.5 255.5A8.4 4.9 60 1 1 258.9 270.1Z"/><path class="t" d="M278.5 287.2A8.4 4.9 60 1 1 270.1 272.7A8.4 4.9 60 1 1 278.5 287.2Z"/><path class="t" d="M261 242.7C262 243.3 264.9 243.9 266.7 245.9C268.5 247.9 270.3 251.7 271.8 254.8C273.3 257.9 275 262.7 275.6 264.3"/><path class="t" d="M256.6 239.5C257 241.2 257.8 246.3 259.1 249.7C260.4 253.1 262.1 257.1 264.2 259.9C266.3 262.6 269.7 265 271.8 266.2C273.9 267.5 276.2 267.8 276.9 267.5C277.5 267.2 275.8 264.9 275.6 264.3"/><path class="t" d="M255.3 237L256.6 239.5"/><path class="t" d="M279.4 296.7L279.4 308.2"/><path class="t" d="M190.8 291.8C191.6 292.8 193.6 296.6 195.9 297.7C198.1 298.8 202.9 298.4 204.3 298.6"/><path class="t" d="M204.3 298.6C204.9 299.5 206.6 302.1 207.7 304.5C208.8 306.9 209.5 311.5 211.1 312.9C212.6 314.3 216 312.9 217 312.9"/><path class="t" d="M217 312.9L261.9 285.9"/><path class="t" d="M209.4 316.3C210 317.5 210.8 320.6 212.8 323.1C214.8 325.6 217.6 328.7 221.2 331.6C224.9 334.4 230.8 338.5 234.8 340C238.7 341.6 242.7 341.4 244.9 340.9C247.2 340.3 247.8 337.3 248.3 336.6"/><path class="t" d="M248.3 336.6C248.8 335.9 249.2 333.2 250.9 332.4C252.6 331.6 256.6 331 258.5 331.6C260.3 332.1 261.3 335.1 261.9 335.8"/><path class="t" d="M261.9 335.8C263 336.2 266.4 339 268.6 338.3C270.9 337.6 273.4 334.4 275.4 331.6C277.4 328.7 279.4 324.5 280.5 321.4C281.6 318.3 281.9 314.3 282.2 312.9"/><path class="t" d="M250.9 332.4L280.5 311.2"/><path class="t" d="M258.5 333.2L282.2 317.2"/><path class="t" d="M261.9 331.6L281.3 314.6"/><path class="t" d="M248.3 333.2L258.5 331.6"/><path class="t" d="M216.2 324.8L263.6 293.5"/><path class="t" d="M205.2 297.7L244.9 273.2"/><path class="t" d="M207.7 300.2L217 312.9"/><path class="t" d="M279.6 294.3L278.8 307.9"/><path d="M203 202.5A4.8 2.8 60 1 1 198.2 194.1A4.8 2.8 60 1 1 203 202.5Z" fill="#666" stroke="#000" stroke-width="1.3"/><path d="M175.1 243.1A4.8 2.8 60 1 1 170.3 234.7A4.8 2.8 60 1 1 175.1 243.1Z" fill="#666" stroke="#000" stroke-width="1.3"/><path d="M259 235.1A4.8 2.8 60 1 1 254.2 226.7A4.8 2.8 60 1 1 259 235.1Z" fill="#666" stroke="#000" stroke-width="1.3"/><path d="M286.9 307.2A4.8 2.8 60 1 1 282.1 298.8A4.8 2.8 60 1 1 286.9 307.2Z" fill="#666" stroke="#000" stroke-width="1.3"/><path d="M203 312.7A4.8 2.8 60 1 1 198.2 304.3A4.8 2.8 60 1 1 203 312.7Z" fill="#666" stroke="#000" stroke-width="1.3"/><path d="M258.9 349.5A4.8 2.8 60 1 1 254.1 341.1A4.8 2.8 60 1 1 258.9 349.5Z" fill="#666" stroke="#000" stroke-width="1.3"/></g>
<g id="p_conrod"><path class="d" d="M694.6 273L722.4 318.8L771.1 291.3L697.3 169.5L758.2 134.2L775.5 161"/><path class="t" d="M553.9 105.5L605 76"/><path class="w" d="M507.7 170.4A33.4 19.3 60 0 1 474.3 112.6L511.5 91.1A33.4 19.3 60 0 1 544.9 148.9Z"/><path class="t" d="M507.7 170.4A33.4 19.3 60 1 1 474.3 112.6A33.4 19.3 60 1 1 507.7 170.4Z"/><path class="t" d="M506.6 166.2A29.2 16.9 60 1 1 477.4 115.6A29.2 16.9 60 1 1 506.6 166.2Z"/><path class="t" d="M469.5 129.1C471 129.6 475.1 131.4 478.3 132C481.5 132.7 486.7 132.9 488.8 133.2C490.8 133.5 490.3 133.1 490.5 133.8C490.7 134.5 491 136.5 489.9 137.3C488.8 138 486.4 138.6 484.1 138.4C481.8 138.2 478.4 137.4 475.9 136.1C473.5 134.8 470.6 131.7 469.5 130.9"/><path class="t" d="M470.7 131.4C472 131.9 475.7 133.7 478.3 134.4C480.9 135 484.6 135.4 486.4 135.5C488.3 135.6 488.8 135 489.3 134.9"/><path class="t" d="M497.5 132L499.8 128.8L502.7 131.4L497.5 132"/><path class="wn" d="M586.8 39.3L594.4 30.4L605.8 23.4L616 20.5L627.4 20.9L636.3 25.3L643.9 31L651.6 40.6L657.9 52L663 64.7L668.1 69.8L673.8 72.3L673.8 77.4L670.6 85L664.3 91.4L660.5 97.7L657.9 106.6L654.1 117.7L652.8 130.4L652.8 143.1L655.4 160.9L660.5 181.2L666.8 197.7L674.4 213L680.8 224.4L680.4 221.5L691.1 238.4L700.4 253.7L705.7 266L703.4 269.8L697.3 276.7L692.7 282.8L691.9 292.1L688.1 302.8L680.4 313.5L671.2 322.7L660.5 328.9L651.3 331.9L639 332.7L626.7 330.4L617.5 325.8L611.4 322L602.9 326.6L599.9 327.3L588.4 305.9L577.6 287.5L568.4 273.6L562.3 261.4L562 238.4L563 215.3L566.1 200L564.5 213L567.7 202.8L572.8 196.5L580.4 187.6L588 176.1L593.1 164.7L596.9 153.3L599.5 140.6L600.1 127.9L598.8 115.2L596.3 105L595.7 102.8L586.8 91.4L580.4 81.2L578.5 75.5L579.8 62.2L582.3 48.2L584.9 41.8Z"/><path class="t" d="M586.8 39.3C588 37.8 591.2 33.1 594.4 30.4C597.6 27.8 602.2 25.1 605.8 23.4C609.4 21.8 612.4 20.9 616 20.5C619.6 20.1 624 20.1 627.4 20.9C630.8 21.7 633.6 23.6 636.3 25.3C639.1 27 641.4 28.5 643.9 31C646.5 33.6 649.2 37.1 651.6 40.6C653.9 44.1 656 48 657.9 52C659.8 56 661.3 61.7 663 64.7C664.7 67.7 666.3 68.5 668.1 69.8C669.9 71.1 672.8 71.9 673.8 72.3"/><path class="t" d="M673.8 72.3C673.8 73.2 674.3 75.3 673.8 77.4C673.3 79.5 672.2 82.7 670.6 85C669 87.4 666 89.3 664.3 91.4C662.6 93.5 661.5 95.2 660.5 97.7C659.4 100.3 658.8 103.7 657.9 106.6C657.1 109.6 656.1 112.5 655.4 115.5C654.6 118.6 653.8 123.5 653.5 125.1"/><path class="t" d="M608.4 22.8C610.1 23.1 615.1 23.4 618.5 24.7C621.9 26 625.5 28 628.7 30.4C631.9 32.8 634.6 35.7 637.6 39.3C640.5 42.9 643.9 48 646.5 52C649 56 651.1 59.8 652.8 63.4C654.5 67 655.8 70.2 656.6 73.6C657.5 77 657.9 80.4 657.9 83.8C657.9 87.2 657.5 90.1 656.6 93.9C655.8 97.7 653.9 102.8 652.8 106.6C651.8 110.5 650.9 113.7 650.3 116.8C649.7 119.9 649.2 123.7 649 125.1"/><path class="t" d="M586.8 39.3C588.2 38 592.3 33.1 595.7 31.7C599 30.3 603.7 30.5 607.1 31C610.5 31.6 612.8 32.8 616 34.9C619.2 36.9 623.2 40 626.1 43.1C629.1 46.2 631.4 49.9 633.8 53.3C636.1 56.7 638.4 60.1 640.1 63.4C641.8 66.8 643.1 70.4 643.9 73.6C644.8 76.8 645.4 79.1 645.2 82.5C645 85.9 643.9 90.3 642.7 93.9C641.4 97.5 639.5 101.3 637.6 104.1C635.7 106.9 633.6 108.8 631.2 110.5C628.9 112.1 626.1 113.6 623.6 114.3C621.1 114.9 618.9 114.9 616 114.3C613 113.6 609.2 112.4 605.8 110.5C602.4 108.5 597.3 104.1 595.7 102.8"/><path class="t" d="M595.7 102.8C594.2 100.9 589.3 95 586.8 91.4C584.2 87.8 581.8 83.9 580.4 81.2C579 78.6 578.8 76.5 578.5 75.5"/><path class="t" d="M578.5 75.5C578.7 73.3 579.1 66.7 579.8 62.2C580.4 57.6 581.5 51.6 582.3 48.2C583.2 44.8 584.1 43.3 584.9 41.8C585.6 40.4 586.4 39.7 586.8 39.3"/><path class="t" d="M584.9 41.8C585.4 41.7 586.3 40.6 588 41.2C589.7 41.8 593.9 44.9 595 45.7"/><path class="t" d="M595 45.7C595.8 44.9 597.7 42.1 599.5 41.2C601.3 40.3 603.7 40.2 605.8 40.3C607.9 40.4 609.6 40.5 612.2 41.8C614.7 43.2 618.5 45.9 621.1 48.2C623.6 50.5 625.5 53.1 627.4 55.8C629.3 58.6 631.1 61.7 632.5 64.7C633.9 67.7 635 70.9 635.7 73.6C636.3 76.4 636.5 78.3 636.3 81.2C636.1 84.2 635.5 88.4 634.4 91.4C633.3 94.4 631.8 97 630 99C628.2 101 625.9 102.3 623.6 103.5C621.3 104.6 618.5 105.8 616 106C613.4 106.2 610.9 105.7 608.4 104.7C605.8 103.8 603.3 102.3 600.7 100.3C598.2 98.3 595.1 95.4 593.1 92.7C591.1 89.9 589.5 86.9 588.7 83.8C587.8 80.6 588 77 588 73.6C588 70.2 588.1 66.8 588.7 63.4C589.2 60.1 590.2 56.2 591.2 53.3C592.3 50.3 594.4 46.9 595 45.7"/><path class="t" d="M621.1 48.2C621.5 49.9 622.3 55.2 623.6 58.4C624.9 61.5 626.8 64.6 628.7 67.3C630.6 69.9 634 73.1 635 74.2"/><path class="t" d="M636.3 69.2L642.7 72.3"/><path class="t" d="M578.5 76.8L588 80.6"/><path class="t" d="M588.7 63.4L588 80.6"/><path class="t" d="M588 59L604.5 59.9L603.9 63.4L602 65.3L595.7 64.7L587.4 62.8L588 59"/><path class="t" d="M588.7 61.2L599.5 62.8L603.9 62.2"/><path class="t" d="M609.6 56.5L618.5 47.6L620.4 48.8L612.2 60.3L609.6 56.5"/><path class="t" d="M624.2 102.8C625.4 103.5 629.2 105.8 631.2 106.6C633.2 107.5 634.1 108.4 636.3 107.9C638.5 107.4 643.2 104.2 644.6 103.5"/><path class="t" d="M644.6 103.5L637.6 125.1"/><path class="t" d="M631.2 110.5L644.6 103.5"/><path class="t" d="M596.3 104.7C596.7 106.5 598.1 112.1 598.8 115.5C599.6 118.9 600.4 123.5 600.7 125.1"/><path class="t" d="M598.2 105.4L603.3 125.1"/><path class="t" d="M605.8 110.5L607.1 125.1"/><path class="t" d="M616 114.3L617.3 125.1"/><path class="t" d="M621.1 115.5L623.6 125.1"/><path class="t" d="M623.6 114.3C624.3 115.5 627 120.1 628.1 121.9C629.1 123.7 629.6 124.5 630 125.1"/><path class="t" d="M657.9 105C657.3 107.1 654.9 113.5 654.1 117.7C653.3 121.9 653 126.2 652.8 130.4C652.6 134.6 652.4 138 652.8 143.1C653.3 148.2 654.1 154.5 655.4 160.9C656.6 167.3 658.5 175.1 660.5 181.2C662.4 187.4 665.2 193.9 666.8 197.7C668.4 201.6 669.4 203.3 670 204.4"/><path class="t" d="M651.6 105C651.1 107.1 649.7 113.5 649 117.7C648.4 121.9 648.1 126.2 647.7 130.4C647.4 134.6 646.9 138.5 647.1 143.1C647.3 147.8 648.1 153.3 649 158.4C650 163.4 651.6 168.5 652.8 173.6C654.1 178.7 654.9 184.2 656.6 188.9C658.3 193.5 660.9 197.5 663 201.6C665.1 205.6 668.3 211.1 669.3 213"/><path class="t" d="M600.7 167.3C600.1 168.7 598.6 173 596.9 176.1C595.2 179.3 593.3 182.9 590.6 186.3C587.8 189.7 583.6 193.9 580.4 196.5C577.2 199 573 200.7 571.5 201.6"/><path class="t" d="M600.1 117.7C600.3 121.9 601.2 134.6 601.4 143.1C601.6 151.6 601.4 164.3 601.4 168.5"/><path class="t" d="M605.8 110.1C605.9 113.5 606.3 120.7 606.5 130.4C606.6 140.2 606.5 162.2 606.5 168.5"/><path class="t" d="M616 115.2C616.3 119.8 617.6 132.7 617.9 143.1C618.2 153.5 617.9 171.7 617.9 177.4"/><path class="t" d="M621.1 116.4C621.1 120.9 621.2 133 621.3 143.1C621.4 153.3 621.6 171.7 621.7 177.4"/><path class="t" d="M600.7 124.1C602.2 124 606.9 123.2 609.6 123.4C612.4 123.6 616 125 617.3 125.3"/><path class="t" d="M622.3 117.7C623.2 118.8 625.9 121.1 627.4 124.1C628.9 127 630.4 130.2 631.2 135.5C632.1 140.8 632.4 148.2 632.5 155.8C632.6 163.4 632 177 631.9 181.2"/><path class="t" d="M624.2 115.8C625.2 117.8 628.6 124.2 630 127.9C631.3 131.6 632.1 136.3 632.5 138"/><path class="t" d="M643.9 105L637.6 122.8L632.5 138"/><path class="t" d="M637.6 122.8L637.6 160.9"/><path class="t" d="M632.5 141.2C633.3 141.7 635.7 143.7 637.6 144.4C639.5 145 641.8 145.3 643.9 145C646.1 144.7 648.8 143.4 650.3 142.5C651.8 141.5 652.4 139.8 652.8 139.3"/><path class="t" d="M601.4 168.5C601.1 169.8 600.5 173.4 599.5 176.1C598.4 178.9 595.9 182.5 595 185C594.2 187.6 594.1 189.6 594.4 191.4C594.7 193.2 595 194.5 596.9 195.8C598.8 197.2 602.6 198.3 605.8 199.7C609 201 613 202.9 616 204.1C618.9 205.3 621.5 206.4 623.6 206.6C625.7 206.9 627.4 206.6 628.7 205.4C630 204.1 630.7 203 631.2 199C631.8 195 631.8 184.2 631.9 181.2"/><path class="t" d="M606.5 168.5C605.9 170.6 604.4 177.8 603.3 181.2C602.1 184.6 600 186.8 599.5 188.9C598.9 190.9 598.6 192 600.1 193.3C601.6 194.6 605.3 195.2 608.4 196.5C611.4 197.7 615.6 199.9 618.5 200.9C621.5 202 624.2 203 626.1 202.8C628.1 202.6 629.3 200.2 630 199.7"/><path class="t" d="M601.4 168.5C602.7 168.3 606.9 167.3 609.6 167.3C612.4 167.3 616.5 168.3 617.9 168.5"/><path class="t" d="M621.7 169.8C622.7 170.2 625.8 171.3 627.4 172.3C629 173.4 630.6 175.5 631.2 176.1"/><path class="t" d="M617.9 177.4C617.4 178.3 616.4 180.8 614.7 182.5C613 184.2 608.6 186.3 607.7 187.6C606.9 188.9 607.8 189.3 609.6 190.1C611.4 191 616.4 191.6 618.5 192.7C620.6 193.7 620.9 195.6 622.3 196.5C623.8 197.3 627.5 200.7 627.4 197.7C627.3 194.8 622.7 181.9 621.7 178.7"/><path class="t" d="M631.9 181.2C632.6 183.3 634.5 189.3 636.3 193.9C638.1 198.6 640.3 204 642.7 209.2C645 214.4 649 222.4 650.3 225.1"/><path class="t" d="M596.3 105C596.7 106.7 598.2 111.4 598.8 115.2C599.5 119 600 123.6 600.1 127.9C600.2 132.1 600 136.3 599.5 140.6C598.9 144.8 598 149.3 596.9 153.3C595.9 157.3 594.6 160.9 593.1 164.7C591.6 168.5 590.2 172.3 588 176.1C585.9 180 583 184.2 580.4 187.6C577.9 191 574.9 193.9 572.8 196.5C570.7 199 569.1 200.1 567.7 202.8C566.3 205.6 565.5 208.9 564.5 213C563.6 217.1 562.5 223.4 562.1 227.6C561.7 231.8 561.9 232.7 562 238.4C562 244 561.2 255.5 562.3 261.4C563.3 267.2 565.9 269.3 568.4 273.6C571 278 574.3 282.1 577.6 287.5C580.9 292.8 584.6 299.2 588.4 305.9C592.1 312.5 597.9 323.8 599.9 327.3"/><path class="t" d="M599.9 327.3C600.4 327.2 601 327.5 602.9 326.6C604.8 325.7 610 322.7 611.4 322"/><path class="t" d="M611.2 321.1A4.2 1.3 -30 1 1 603.9 325.3A4.2 1.3 -30 1 1 611.2 321.1Z"/><path class="t" d="M611.4 322C612.4 322.6 614.9 324.4 617.5 325.8C620.1 327.2 623.1 329.3 626.7 330.4C630.3 331.6 634.9 332.5 639 332.7C643.1 333 647.7 332.6 651.3 331.9C654.8 331.3 657.1 330.4 660.5 328.9C663.8 327.3 667.9 325.3 671.2 322.7C674.5 320.2 677.6 316.9 680.4 313.5C683.2 310.2 686.2 306.4 688.1 302.8C690 299.2 691.1 295.4 691.9 292.1C692.7 288.7 692.6 284.4 692.7 282.8"/><path class="t" d="M692.7 282.8C693.4 281.8 695.5 278.9 697.3 276.7C699.1 274.5 702 271.6 703.4 269.8C704.8 268 705.3 266.6 705.7 266"/><path class="t" d="M705.7 266L697.3 252.2L680.4 221.5L667.8 201.5"/><path class="t" d="M637.5 200C638.7 202.8 641.5 210.7 645.1 216.9C648.7 223 654.3 229.9 658.9 236.8C663.5 243.7 668.4 251.7 672.7 258.3C677.1 264.9 683 273.6 685 276.7"/><path class="t" d="M662 200L669.7 212.3L678.9 223.8L691.1 244.5L703.4 266"/><path class="t" d="M658.9 236.8L678.9 223.8"/><path class="t" d="M648.2 243.7L658.9 236.8"/><path class="t" d="M704 267.1A9.5 2.6 -30 1 1 687.5 276.6A9.5 2.6 -30 1 1 704 267.1Z"/><path class="t" d="M701.5 268.7A7.5 1.5 -30 1 1 688.5 276.2A7.5 1.5 -30 1 1 701.5 268.7Z" style="stroke-width:1.8"/><path class="t" d="M685 276.7C683.5 278.8 677.6 286.4 675.8 289C674 291.5 674.5 291.5 674.3 292.1"/><path class="t" d="M674.3 291.3L692.7 282.8"/><path class="t" d="M674.3 292.1C674 294.6 674 302.5 672.7 307.4C671.5 312.3 669.2 317.4 666.6 321.2C664 325 658.9 328.9 657.4 330.4"/><path class="t" d="M685 290.5C684.8 292.8 684.8 300 683.5 304.3C682.2 308.7 679.9 312.8 677.3 316.6C674.8 320.4 669.7 325.5 668.1 327.3"/><path class="t" d="M692.7 282.8C692.4 285.4 692.4 293.6 691.1 298.2C689.9 302.8 687.6 306.9 685 310.5C682.5 314 677.3 318.1 675.8 319.7"/><path class="t" d="M608.3 313.5C605.7 311.2 597.3 304.3 593 299.7C588.6 295.1 585.3 291 582.2 285.9C579.2 280.8 576.7 274.7 574.5 269C572.4 263.4 570.3 257.8 569.2 252.2C568 246.5 567.5 240.7 567.6 235.3C567.8 229.9 568.5 224.3 569.9 219.9C571.4 215.6 573.3 212.1 576.1 209.2C578.9 206.3 582.7 203.3 586.8 202.3C590.9 201.3 595.8 201.9 600.6 203.1C605.5 204.2 611.1 206.4 616 209.2C620.8 212 625.4 215.9 629.8 219.9C634.1 224 638.5 229.4 642.1 233.8C645.6 238.1 648.4 241.4 651.3 246C654.1 250.6 657 256.3 658.9 261.4C660.8 266.5 662.1 271.6 662.8 276.7C663.4 281.8 663.7 286.9 662.8 292.1C661.9 297.2 659.8 303 657.4 307.4C655 311.7 651.8 315.3 648.2 318.1C644.6 320.9 640 323.4 635.9 324.3C631.8 325.2 627.7 324.5 623.6 323.5C619.6 322.5 613.4 319 611.4 318.1"/><path class="t" d="M588.4 209.2C590.4 209.3 596.3 208.9 600.6 210C605 211 609.8 212.7 614.4 215.3C619 218 623.9 222 628.2 226.1C632.6 230.2 636.9 235 640.5 239.9C644.1 244.7 647.3 250.1 649.7 255.2C652.2 260.3 654.1 265.5 655.1 270.6C656.1 275.7 656.2 281.1 655.9 285.9C655.5 290.8 654.6 295.6 652.8 299.7C651 303.8 648.2 307.9 645.1 310.5C642.1 313 638.2 314.4 634.4 315.1C630.5 315.7 626.2 315.6 622.1 314.3C618 313 614.2 310.6 609.8 307.4C605.5 304.2 600.4 300 596 295.1C591.7 290.3 587.1 283.9 583.8 278.2C580.4 272.6 577.9 267 576.1 261.4C574.3 255.7 573.4 249.9 573 244.5C572.6 239.1 572.8 233.8 573.8 229.2C574.8 224.5 576.7 220.2 579.2 216.9C581.6 213.6 586.8 210.5 588.4 209.2"/><path class="t" d="M591.4 215.3C593.2 215.3 598.3 214.6 602.2 215.3C606 216.1 610.3 217.6 614.4 219.9C618.5 222.2 622.9 225.6 626.7 229.2C630.5 232.7 634.1 236.8 637.5 241.4C640.8 246 644.4 251.7 646.7 256.8C649 261.9 650.4 267.2 651.3 272.1C652.2 277 652.5 281.6 652 285.9C651.5 290.3 650.1 294.9 648.2 298.2C646.3 301.5 643.6 304.2 640.5 305.9C637.5 307.5 633.6 308.2 629.8 308.2C625.9 308.2 621.6 307.5 617.5 305.9C613.4 304.2 609.1 301.5 605.2 298.2C601.4 294.9 597.8 290.8 594.5 285.9C591.2 281.1 587.6 274.7 585.3 269C583 263.4 581.6 257.5 580.7 252.2C579.8 246.8 579.5 241.4 579.9 236.8C580.3 232.2 581.1 228.1 583 224.5C584.9 221 590 216.9 591.4 215.3"/><path class="t" d="M607.5 218.4C607.8 221.7 607.9 232 609.1 238.4C610.2 244.7 612 251.1 614.4 256.8C616.9 262.4 620.1 267.5 623.6 272.1C627.2 276.7 631.6 281.1 635.9 284.4C640.3 287.7 647.4 290.8 649.7 292.1"/><path class="t" d="M577.6 287.5L586.8 278.2L611.4 263.7"/><path class="t" d="M609.1 260.6L616 259.1L618.3 267.5L612.1 269.8L609.1 260.6"/><path class="t" d="M638.2 242.2L648.2 241.4L649.7 246L640.5 247.6L638.2 242.2"/><path class="t" d="M579.9 277.5L589.1 275.9L590.7 282.1L582.2 284.4L579.9 277.5"/><path class="t" d="M569.9 200C572.5 200.1 580.2 200.3 585.3 200.8C590.4 201.3 598.1 202.7 600.6 203.1"/><path class="t" d="M608.3 200C609.8 200.8 614.4 203.6 617.5 204.6C620.6 205.6 624.7 206.6 626.7 206.1C628.8 205.6 629.3 202.3 629.8 201.5"/><path class="t" d="M580 90.3L605 76"/><path class="w" d="M770.6 169.6L772.2 165.9L781.2 160.6L784.3 161.6L817.7 217.7L826.1 216.7L828.8 219.8L827.7 223L830.4 231.5L829.8 234.7L819.3 242.1L811.9 244.2L807.6 238.9L801.8 234.7L804.4 229.9L807.6 227.2Z" style="stroke-width:1.5"/><path class="t" d="M773.8 173.8L785.4 165.9"/><path class="t" d="M777.5 179.6L788 171.7"/><path class="t" d="M781.2 185.4L791.7 178"/><path class="t" d="M784.9 191.3L794.9 183.9"/><path class="t" d="M788 196.6L797 189.7"/><path class="t" d="M789.1 198.1L798.1 191.3"/><path class="t" d="M807.6 227.2L817.7 217.7"/><path class="t" d="M803.9 234.7L809.7 229.4L825.6 219.8"/><path class="t" d="M809.7 229.4L812.9 239.9"/><path class="t" d="M812.9 239.9L827.7 232.5"/><path class="t" d="M823.5 224.1L827.7 232.5"/><path class="t" d="M805.5 231.5L824.6 218.8"/><path class="d" d="M1193.1 838L1218.7 885.5L1269.9 853.9L1189 719.9L1249.2 685.1L1275.5 726"/><path class="w" d="M1007.7 735.4A33.4 19.3 60 0 1 974.3 677.6L1011.5 656.1A33.4 19.3 60 0 1 1044.9 713.9Z"/><path class="t" d="M1007.7 735.4A33.4 19.3 60 1 1 974.3 677.6A33.4 19.3 60 1 1 1007.7 735.4Z"/><path class="t" d="M1006.6 731.2A29.2 16.9 60 1 1 977.4 680.6A29.2 16.9 60 1 1 1006.6 731.2Z"/><path class="t" d="M969.5 694.1C971 694.6 975.1 696.4 978.3 697C981.5 697.7 986.7 697.9 988.8 698.2C990.8 698.5 990.3 698.1 990.5 698.8C990.7 699.5 991 701.5 989.9 702.3C988.8 703 986.4 703.6 984.1 703.4C981.8 703.2 978.4 702.4 975.9 701.1C973.5 699.8 970.6 696.7 969.5 695.9"/><path class="t" d="M970.7 696.4C972 696.9 975.7 698.7 978.3 699.4C980.9 700 984.6 700.4 986.4 700.5C988.3 700.6 988.8 700 989.3 699.9"/><path class="t" d="M997.5 697L999.8 693.8L1002.7 696.4L997.5 697"/><path class="wn" d="M1085.6 603.2L1093.2 594.3L1104.6 587.3L1114.8 584.4L1126.2 584.8L1135.1 589.2L1142.7 594.9L1150.4 604.5L1156.7 615.9L1161.8 628.6L1166.9 633.7L1172.6 636.2L1172.6 641.3L1169.4 648.9L1163.1 655.3L1159.3 661.6L1156.7 670.5L1152.9 681.6L1151.6 694.3L1151.6 707L1154.2 724.8L1159.3 745.1L1165.6 761.6L1173.2 776.9L1179.6 788.3L1179.2 785.4L1189.9 802.3L1199.2 817.6L1204.5 829.9L1202.2 833.7L1196.1 840.6L1191.5 846.7L1190.7 856L1186.9 866.7L1179.2 877.4L1170 886.6L1159.3 892.8L1150.1 895.8L1137.8 896.6L1125.5 894.3L1116.3 889.7L1110.2 885.9L1101.7 890.5L1098.7 891.2L1087.2 869.8L1076.4 851.4L1067.2 837.5L1061.1 825.3L1060.8 802.3L1061.8 779.2L1064.9 763.9L1063.3 776.9L1066.5 766.7L1071.6 760.4L1079.2 751.5L1086.8 740L1091.9 728.6L1095.7 717.2L1098.3 704.5L1098.9 691.8L1097.6 679.1L1095.1 668.9L1094.5 666.7L1085.6 655.3L1079.2 645.1L1077.3 639.4L1078.6 626.1L1081.1 612.1L1083.7 605.7Z"/><path class="k" d="M1085.6 603.2C1086.8 601.7 1090 597 1093.2 594.3C1096.4 591.7 1101 589 1104.6 587.3C1108.2 585.7 1111.2 584.8 1114.8 584.4C1118.4 584 1122.8 584 1126.2 584.8C1129.6 585.6 1132.4 587.5 1135.1 589.2C1137.9 590.9 1140.2 592.4 1142.7 594.9C1145.3 597.5 1148 601 1150.4 604.5C1152.7 608 1154.8 611.9 1156.7 615.9C1158.6 619.9 1160.1 625.6 1161.8 628.6C1163.5 631.6 1165.1 632.4 1166.9 633.7C1168.7 635 1171.6 635.8 1172.6 636.2"/><path class="k" d="M1172.6 636.2C1172.6 637.1 1173.1 639.2 1172.6 641.3C1172.1 643.4 1171 646.6 1169.4 648.9C1167.8 651.3 1164.8 653.2 1163.1 655.3C1161.4 657.4 1160.3 659.1 1159.3 661.6C1158.2 664.2 1157.6 667.6 1156.7 670.5C1155.9 673.5 1154.9 676.4 1154.2 679.4C1153.4 682.5 1152.6 687.4 1152.3 689"/><path class="t" d="M1107.2 586.7C1108.9 587 1113.9 587.3 1117.3 588.6C1120.7 589.9 1124.3 591.9 1127.5 594.3C1130.7 596.7 1133.4 599.6 1136.4 603.2C1139.3 606.8 1142.7 611.9 1145.3 615.9C1147.8 619.9 1149.9 623.7 1151.6 627.3C1153.3 630.9 1154.6 634.1 1155.4 637.5C1156.3 640.9 1156.7 644.3 1156.7 647.7C1156.7 651.1 1156.3 654 1155.4 657.8C1154.6 661.6 1152.7 666.7 1151.6 670.5C1150.6 674.4 1149.7 677.6 1149.1 680.7C1148.5 683.8 1148 687.6 1147.8 689"/><path class="t" d="M1085.6 603.2C1087 601.9 1091.1 597 1094.5 595.6C1097.8 594.2 1102.5 594.4 1105.9 594.9C1109.3 595.5 1111.6 596.7 1114.8 598.8C1118 600.8 1122 603.9 1124.9 607C1127.9 610.1 1130.2 613.8 1132.6 617.2C1134.9 620.6 1137.2 624 1138.9 627.3C1140.6 630.7 1141.9 634.3 1142.7 637.5C1143.6 640.7 1144.2 643 1144 646.4C1143.8 649.8 1142.7 654.2 1141.5 657.8C1140.2 661.4 1138.3 665.2 1136.4 668C1134.5 670.8 1132.4 672.7 1130 674.4C1127.7 676 1124.9 677.5 1122.4 678.2C1119.9 678.8 1117.7 678.8 1114.8 678.2C1111.8 677.5 1108 676.3 1104.6 674.4C1101.2 672.4 1096.1 668 1094.5 666.7"/><path class="k" d="M1094.5 666.7C1093 664.8 1088.1 658.9 1085.6 655.3C1083 651.7 1080.6 647.8 1079.2 645.1C1077.8 642.5 1077.6 640.4 1077.3 639.4"/><path class="k" d="M1077.3 639.4C1077.5 637.2 1077.9 630.6 1078.6 626.1C1079.2 621.5 1080.3 615.5 1081.1 612.1C1082 608.7 1082.9 607.2 1083.7 605.7C1084.4 604.3 1085.2 603.6 1085.6 603.2"/><path class="t" d="M1083.7 605.7C1084.2 605.6 1085.1 604.5 1086.8 605.1C1088.5 605.7 1092.7 608.8 1093.8 609.6"/><path class="t" d="M1093.8 609.6C1094.6 608.8 1096.5 606 1098.3 605.1C1100.1 604.2 1102.5 604.1 1104.6 604.2C1106.7 604.3 1108.4 604.4 1111 605.7C1113.5 607.1 1117.3 609.8 1119.9 612.1C1122.4 614.4 1124.3 617 1126.2 619.7C1128.1 622.5 1129.9 625.6 1131.3 628.6C1132.7 631.6 1133.8 634.8 1134.5 637.5C1135.1 640.3 1135.3 642.2 1135.1 645.1C1134.9 648.1 1134.3 652.3 1133.2 655.3C1132.1 658.3 1130.6 660.9 1128.8 662.9C1127 664.9 1124.7 666.2 1122.4 667.4C1120.1 668.5 1117.3 669.7 1114.8 669.9C1112.2 670.1 1109.7 669.6 1107.2 668.6C1104.6 667.7 1102.1 666.2 1099.5 664.2C1097 662.2 1093.9 659.3 1091.9 656.6C1089.9 653.8 1088.3 650.8 1087.5 647.7C1086.6 644.5 1086.8 640.9 1086.8 637.5C1086.8 634.1 1086.9 630.7 1087.5 627.3C1088 624 1089 620.1 1090 617.2C1091.1 614.2 1093.2 610.8 1093.8 609.6"/><path class="t" d="M1119.9 612.1C1120.3 613.8 1121.1 619.1 1122.4 622.3C1123.7 625.4 1125.6 628.5 1127.5 631.2C1129.4 633.8 1132.8 637 1133.8 638.1"/><path class="t" d="M1135.1 633.1L1141.5 636.2"/><path class="t" d="M1077.3 640.7L1086.8 644.5"/><path class="t" d="M1087.5 627.3L1086.8 644.5"/><path class="t" d="M1086.8 622.9L1103.3 623.8L1102.7 627.3L1100.8 629.2L1094.5 628.6L1086.2 626.7L1086.8 622.9"/><path class="t" d="M1087.5 625.1L1098.3 626.7L1102.7 626.1"/><path class="t" d="M1108.4 620.4L1117.3 611.5L1119.2 612.7L1111 624.2L1108.4 620.4"/><path class="t" d="M1123 666.7C1124.2 667.4 1128 669.7 1130 670.5C1132 671.4 1132.9 672.3 1135.1 671.8C1137.3 671.3 1142 668.1 1143.4 667.4"/><path class="t" d="M1143.4 667.4L1136.4 689"/><path class="t" d="M1130 674.4L1143.4 667.4"/><path class="k" d="M1095.1 668.6C1095.5 670.4 1096.9 676 1097.6 679.4C1098.4 682.8 1099.2 687.4 1099.5 689"/><path class="t" d="M1097 669.3L1102.1 689"/><path class="t" d="M1104.6 674.4L1105.9 689"/><path class="t" d="M1114.8 678.2L1116.1 689"/><path class="t" d="M1119.9 679.4L1122.4 689"/><path class="t" d="M1122.4 678.2C1123.1 679.4 1125.8 684 1126.9 685.8C1127.9 687.6 1128.4 688.4 1128.8 689"/><path class="k" d="M1156.7 668.9C1156.1 671 1153.7 677.4 1152.9 681.6C1152.1 685.8 1151.8 690.1 1151.6 694.3C1151.4 698.5 1151.2 701.9 1151.6 707C1152.1 712.1 1152.9 718.4 1154.2 724.8C1155.4 731.2 1157.3 739 1159.3 745.1C1161.2 751.3 1164 757.8 1165.6 761.6C1167.2 765.5 1168.2 767.2 1168.8 768.3"/><path class="t" d="M1150.4 668.9C1149.9 671 1148.5 677.4 1147.8 681.6C1147.2 685.8 1146.9 690.1 1146.5 694.3C1146.2 698.5 1145.7 702.4 1145.9 707C1146.1 711.7 1146.9 717.2 1147.8 722.3C1148.8 727.3 1150.4 732.4 1151.6 737.5C1152.9 742.6 1153.7 748.1 1155.4 752.8C1157.1 757.4 1159.7 761.4 1161.8 765.5C1163.9 769.5 1167.1 775 1168.1 776.9"/><path class="t" d="M1099.5 731.2C1098.9 732.6 1097.4 736.9 1095.7 740C1094 743.2 1092.1 746.8 1089.4 750.2C1086.6 753.6 1082.4 757.8 1079.2 760.4C1076 762.9 1071.8 764.6 1070.3 765.5"/><path class="t" d="M1098.9 681.6C1099.1 685.8 1100 698.5 1100.2 707C1100.4 715.5 1100.2 728.2 1100.2 732.4"/><path class="t" d="M1104.6 674C1104.7 677.4 1105.1 684.6 1105.3 694.3C1105.4 704.1 1105.3 726.1 1105.3 732.4"/><path class="t" d="M1114.8 679.1C1115.1 683.7 1116.4 696.6 1116.7 707C1117 717.4 1116.7 735.6 1116.7 741.3"/><path class="t" d="M1119.9 680.3C1119.9 684.8 1120 696.9 1120.1 707C1120.2 717.2 1120.4 735.6 1120.5 741.3"/><path class="t" d="M1099.5 688C1101 687.9 1105.7 687.1 1108.4 687.3C1111.2 687.5 1114.8 688.9 1116.1 689.2"/><path class="t" d="M1121.1 681.6C1122 682.7 1124.7 685 1126.2 688C1127.7 690.9 1129.2 694.1 1130 699.4C1130.9 704.7 1131.2 712.1 1131.3 719.7C1131.4 727.3 1130.8 740.9 1130.7 745.1"/><path class="t" d="M1123 679.7C1124 681.7 1127.4 688.1 1128.8 691.8C1130.1 695.5 1130.9 700.2 1131.3 701.9"/><path class="t" d="M1142.7 668.9L1136.4 686.7L1131.3 701.9"/><path class="t" d="M1136.4 686.7L1136.4 724.8"/><path class="t" d="M1131.3 705.1C1132.1 705.6 1134.5 707.6 1136.4 708.3C1138.3 708.9 1140.6 709.2 1142.7 708.9C1144.9 708.6 1147.6 707.3 1149.1 706.4C1150.6 705.4 1151.2 703.7 1151.6 703.2"/><path class="t" d="M1100.2 732.4C1099.9 733.7 1099.3 737.3 1098.3 740C1097.2 742.8 1094.7 746.4 1093.8 748.9C1093 751.5 1092.9 753.5 1093.2 755.3C1093.5 757.1 1093.8 758.4 1095.7 759.7C1097.6 761.1 1101.4 762.2 1104.6 763.6C1107.8 764.9 1111.8 766.8 1114.8 768C1117.7 769.2 1120.3 770.3 1122.4 770.5C1124.5 770.8 1126.2 770.5 1127.5 769.3C1128.8 768 1129.5 766.9 1130 762.9C1130.6 758.9 1130.6 748.1 1130.7 745.1"/><path class="t" d="M1105.3 732.4C1104.7 734.5 1103.2 741.7 1102.1 745.1C1100.9 748.5 1098.8 750.7 1098.3 752.8C1097.7 754.8 1097.4 755.9 1098.9 757.2C1100.4 758.5 1104.1 759.1 1107.2 760.4C1110.2 761.6 1114.4 763.8 1117.3 764.8C1120.3 765.9 1123 766.9 1124.9 766.7C1126.9 766.5 1128.1 764.1 1128.8 763.6"/><path class="t" d="M1100.2 732.4C1101.5 732.2 1105.7 731.2 1108.4 731.2C1111.2 731.2 1115.3 732.2 1116.7 732.4"/><path class="t" d="M1120.5 733.7C1121.5 734.1 1124.6 735.2 1126.2 736.2C1127.8 737.3 1129.4 739.4 1130 740"/><path class="t" d="M1116.7 741.3C1116.2 742.2 1115.2 744.7 1113.5 746.4C1111.8 748.1 1107.4 750.2 1106.5 751.5C1105.7 752.8 1106.6 753.2 1108.4 754C1110.2 754.9 1115.2 755.5 1117.3 756.6C1119.4 757.6 1119.7 759.5 1121.1 760.4C1122.6 761.2 1126.3 764.6 1126.2 761.6C1126.1 758.7 1121.5 745.8 1120.5 742.6"/><path class="t" d="M1130.7 745.1C1131.4 747.2 1133.3 753.2 1135.1 757.8C1136.9 762.5 1139.1 767.9 1141.5 773.1C1143.8 778.3 1147.8 786.3 1149.1 789"/><path class="k" d="M1095.1 668.9C1095.5 670.6 1097 675.3 1097.6 679.1C1098.3 682.9 1098.8 687.5 1098.9 691.8C1099 696 1098.8 700.2 1098.3 704.5C1097.7 708.7 1096.8 713.2 1095.7 717.2C1094.7 721.2 1093.4 724.8 1091.9 728.6C1090.4 732.4 1089 736.2 1086.8 740C1084.7 743.9 1081.8 748.1 1079.2 751.5C1076.7 754.9 1073.7 757.8 1071.6 760.4C1069.5 762.9 1067.9 764 1066.5 766.7C1065.1 769.5 1064.3 772.8 1063.3 776.9C1062.4 781 1061.3 787.3 1060.9 791.5C1060.5 795.7 1060.7 796.6 1060.8 802.3C1060.8 807.9 1060 819.4 1061.1 825.3C1062.1 831.1 1064.7 833.2 1067.2 837.5C1069.8 841.9 1073.1 846 1076.4 851.4C1079.7 856.7 1083.4 863.1 1087.2 869.8C1090.9 876.4 1096.7 887.7 1098.7 891.2"/><path class="k" d="M1098.7 891.2C1099.2 891.1 1099.8 891.4 1101.7 890.5C1103.6 889.6 1108.8 886.6 1110.2 885.9"/><path class="t" d="M1110 885A4.2 1.3 -30 1 1 1102.7 889.2A4.2 1.3 -30 1 1 1110 885Z"/><path class="k" d="M1110.2 885.9C1111.2 886.5 1113.7 888.3 1116.3 889.7C1118.9 891.1 1121.9 893.2 1125.5 894.3C1129.1 895.5 1133.7 896.4 1137.8 896.6C1141.9 896.9 1146.5 896.5 1150.1 895.8C1153.6 895.2 1155.9 894.3 1159.3 892.8C1162.6 891.2 1166.7 889.2 1170 886.6C1173.3 884.1 1176.4 880.8 1179.2 877.4C1182 874.1 1185 870.3 1186.9 866.7C1188.8 863.1 1189.9 859.3 1190.7 856C1191.5 852.6 1191.4 848.3 1191.5 846.7"/><path class="k" d="M1191.5 846.7C1192.2 845.7 1194.3 842.8 1196.1 840.6C1197.9 838.4 1200.8 835.5 1202.2 833.7C1203.6 831.9 1204.1 830.5 1204.5 829.9"/><path class="k" d="M1204.5 829.9L1196.1 816.1L1179.2 785.4L1166.6 765.4"/><path class="t" d="M1136.3 763.9C1137.5 766.7 1140.3 774.6 1143.9 780.8C1147.5 786.9 1153.1 793.8 1157.7 800.7C1162.3 807.6 1167.2 815.6 1171.5 822.2C1175.9 828.8 1181.8 837.5 1183.8 840.6"/><path class="t" d="M1160.8 763.9L1168.5 776.2L1177.7 787.7L1189.9 808.4L1202.2 829.9"/><path class="t" d="M1157.7 800.7L1177.7 787.7"/><path class="t" d="M1147 807.6L1157.7 800.7"/><path class="t" d="M1202.8 831A9.5 2.6 -30 1 1 1186.3 840.5A9.5 2.6 -30 1 1 1202.8 831Z"/><path class="t" d="M1200.3 832.6A7.5 1.5 -30 1 1 1187.3 840.1A7.5 1.5 -30 1 1 1200.3 832.6Z" style="stroke-width:1.8"/><path class="t" d="M1183.8 840.6C1182.3 842.7 1176.4 850.3 1174.6 852.9C1172.8 855.4 1173.3 855.4 1173.1 856"/><path class="t" d="M1173.1 855.2L1191.5 846.7"/><path class="t" d="M1173.1 856C1172.8 858.5 1172.8 866.4 1171.5 871.3C1170.3 876.2 1168 881.3 1165.4 885.1C1162.8 888.9 1157.7 892.8 1156.2 894.3"/><path class="t" d="M1183.8 854.4C1183.6 856.7 1183.6 863.9 1182.3 868.2C1181 872.6 1178.7 876.7 1176.1 880.5C1173.6 884.3 1168.5 889.4 1166.9 891.2"/><path class="t" d="M1191.5 846.7C1191.2 849.3 1191.2 857.5 1189.9 862.1C1188.7 866.7 1186.4 870.8 1183.8 874.4C1181.3 877.9 1176.1 882 1174.6 883.6"/><path class="t" d="M1107.1 877.4C1104.5 875.1 1096.1 868.2 1091.8 863.6C1087.4 859 1084.1 854.9 1081 849.8C1078 844.7 1075.5 838.6 1073.3 832.9C1071.2 827.3 1069.1 821.7 1068 816.1C1066.8 810.4 1066.3 804.6 1066.4 799.2C1066.6 793.8 1067.3 788.2 1068.7 783.8C1070.2 779.5 1072.1 776 1074.9 773.1C1077.7 770.2 1081.5 767.2 1085.6 766.2C1089.7 765.2 1094.6 765.8 1099.4 767C1104.3 768.1 1109.9 770.3 1114.8 773.1C1119.6 775.9 1124.2 779.8 1128.6 783.8C1132.9 787.9 1137.3 793.3 1140.9 797.7C1144.4 802 1147.2 805.3 1150.1 809.9C1152.9 814.5 1155.8 820.2 1157.7 825.3C1159.6 830.4 1160.9 835.5 1161.6 840.6C1162.2 845.7 1162.5 850.8 1161.6 856C1160.7 861.1 1158.6 866.9 1156.2 871.3C1153.8 875.6 1150.6 879.2 1147 882C1143.4 884.8 1138.8 887.3 1134.7 888.2C1130.6 889.1 1126.5 888.4 1122.4 887.4C1118.4 886.4 1112.2 882.9 1110.2 882"/><path class="t" d="M1087.2 773.1C1089.2 773.2 1095.1 772.8 1099.4 773.9C1103.8 774.9 1108.6 776.6 1113.2 779.2C1117.8 781.9 1122.7 785.9 1127 790C1131.4 794.1 1135.7 798.9 1139.3 803.8C1142.9 808.6 1146.1 814 1148.5 819.1C1151 824.2 1152.9 829.4 1153.9 834.5C1154.9 839.6 1155 845 1154.7 849.8C1154.3 854.7 1153.4 859.5 1151.6 863.6C1149.8 867.7 1147 871.8 1143.9 874.4C1140.9 876.9 1137 878.3 1133.2 879C1129.3 879.6 1125 879.5 1120.9 878.2C1116.8 876.9 1113 874.5 1108.6 871.3C1104.3 868.1 1099.2 863.9 1094.8 859C1090.5 854.2 1085.9 847.8 1082.6 842.1C1079.2 836.5 1076.7 830.9 1074.9 825.3C1073.1 819.6 1072.2 813.8 1071.8 808.4C1071.4 803 1071.6 797.7 1072.6 793.1C1073.6 788.4 1075.5 784.1 1078 780.8C1080.4 777.5 1085.6 774.4 1087.2 773.1"/><path class="t" d="M1090.2 779.2C1092 779.2 1097.1 778.5 1101 779.2C1104.8 780 1109.1 781.5 1113.2 783.8C1117.3 786.1 1121.7 789.5 1125.5 793.1C1129.3 796.6 1132.9 800.7 1136.3 805.3C1139.6 809.9 1143.2 815.6 1145.5 820.7C1147.8 825.8 1149.2 831.1 1150.1 836C1151 840.9 1151.3 845.5 1150.8 849.8C1150.3 854.2 1148.9 858.8 1147 862.1C1145.1 865.4 1142.4 868.1 1139.3 869.8C1136.3 871.4 1132.4 872.1 1128.6 872.1C1124.7 872.1 1120.4 871.4 1116.3 869.8C1112.2 868.1 1107.9 865.4 1104 862.1C1100.2 858.8 1096.6 854.7 1093.3 849.8C1090 845 1086.4 838.6 1084.1 832.9C1081.8 827.3 1080.4 821.4 1079.5 816.1C1078.6 810.7 1078.3 805.3 1078.7 800.7C1079.1 796.1 1079.9 792 1081.8 788.4C1083.7 784.9 1088.8 780.8 1090.2 779.2"/><path class="t" d="M1106.3 782.3C1106.6 785.6 1106.7 795.9 1107.9 802.3C1109 808.6 1110.8 815 1113.2 820.7C1115.7 826.3 1118.9 831.4 1122.4 836C1126 840.6 1130.4 845 1134.7 848.3C1139.1 851.6 1146.2 854.7 1148.5 856"/><path class="t" d="M1076.4 851.4L1085.6 842.1L1110.2 827.6"/><path class="t" d="M1107.9 824.5L1114.8 823L1117.1 831.4L1110.9 833.7L1107.9 824.5"/><path class="t" d="M1137 806.1L1147 805.3L1148.5 809.9L1139.3 811.5L1137 806.1"/><path class="t" d="M1078.7 841.4L1087.9 839.8L1089.5 846L1081 848.3L1078.7 841.4"/><path class="t" d="M1068.7 763.9C1071.3 764 1079 764.2 1084.1 764.7C1089.2 765.2 1096.9 766.6 1099.4 767"/><path class="t" d="M1107.1 763.9C1108.6 764.7 1113.2 767.5 1116.3 768.5C1119.4 769.5 1123.5 770.5 1125.5 770C1127.6 769.5 1128.1 766.2 1128.6 765.4"/><path class="w" d="M1270.6 734.6L1272.2 730.9L1281.2 725.6L1284.3 726.6L1317.7 782.7L1326.1 781.7L1328.8 784.8L1327.7 788L1330.4 796.5L1329.8 799.7L1319.3 807.1L1311.9 809.2L1307.6 803.9L1301.8 799.7L1304.4 794.9L1307.6 792.2Z" style="stroke-width:1.5"/><path class="t" d="M1273.8 738.8L1285.4 730.9"/><path class="t" d="M1277.5 744.6L1288 736.7"/><path class="t" d="M1281.2 750.4L1291.7 743"/><path class="t" d="M1284.9 756.3L1294.9 748.9"/><path class="t" d="M1288 761.6L1297 754.7"/><path class="t" d="M1289.1 763.1L1298.1 756.3"/><path class="t" d="M1307.6 792.2L1317.7 782.7"/><path class="t" d="M1303.9 799.7L1309.7 794.4L1325.6 784.8"/><path class="t" d="M1309.7 794.4L1312.9 804.9"/><path class="t" d="M1312.9 804.9L1327.7 797.5"/><path class="t" d="M1323.5 789.1L1327.7 797.5"/><path class="t" d="M1305.5 796.5L1324.6 783.8"/></g>
<g id="p_bolts"><path class="w" d="M91.9 384.7A9.3 5.4 60 0 1 82.6 368.5L132.8 339.5A9.3 5.4 60 0 1 142.2 355.7Z" style="stroke-width:1.5"/><path class="t" d="M87.3 365.9A9.3 5.4 60 1 1 96.5 382"/><path class="t" d="M92.3 363A9.3 5.4 60 1 1 101.5 379.1"/><path class="t" d="M97.3 360.1A9.3 5.4 60 1 1 106.6 376.2"/><path class="t" d="M102.3 357.2A9.3 5.4 60 1 1 111.6 373.3"/><path class="t" d="M107.3 354.3A9.3 5.4 60 1 1 116.6 370.4"/><path class="t" d="M112.4 351.4A9.3 5.4 60 1 1 121.6 367.5"/><path class="t" d="M117.4 348.5A9.3 5.4 60 1 1 126.7 364.6"/><path class="t" d="M122.4 345.6A9.3 5.4 60 1 1 131.7 361.7"/><path class="t" d="M127.4 342.7A9.3 5.4 60 1 1 136.7 358.8"/><path class="w" d="M82.6 388.5A8 4.6 60 0 1 74.6 374.7L83.3 369.7A8 4.6 60 0 1 91.3 383.5Z" style="stroke-width:1.5"/><path class="w" d="M81.9 395.3A13.5 7.8 60 0 1 68.4 371.9L71.9 369.9A13.5 7.8 60 0 1 85.4 393.3Z" style="stroke-width:1.5"/><path class="w" d="M64.9 403A11.7 6.8 60 0 1 53.2 382.8L69.3 373.5A11.7 6.8 60 0 1 81 393.7Z" style="stroke-width:1.5"/><path class="t" d="M53.2 382.8A11.7 6.8 60 0 1 64.9 403" style="stroke-width:1.5"/><path class="t" d="M64.6 401.3A10 5.8 60 1 1 54.6 383.9A10 5.8 60 1 1 64.6 401.3Z"/><path class="t" d="M69.5 400.2A11.7 6.8 60 0 1 58.4 379.8"/><path class="t" d="M74.7 397.2A11.7 6.8 60 0 1 63.6 376.8"/><path class="w" d="M1381.9 324.4L1375.4 321.3L1371.6 312.9L1374.4 307.6L1383.9 302.1L1390.5 305.2L1394.2 313.6L1391.4 318.9Z" style="stroke-width:1.7"/><path class="t" d="M1374.4 307.6L1380.9 310.7L1384.7 319.1L1381.9 324.4" style="stroke-width:1.2"/><path class="t" d="M1380.9 310.7L1390.5 305.2M1384.7 319.1L1394.2 313.6"/><path class="w" d="M1376.3 324.7A6.6 3.8 60 0 1 1369.7 313.3L1374.8 310.3A6.6 3.8 60 0 1 1381.4 321.7Z" style="stroke-width:1.7"/><path class="w" d="M1330.1 350A5.4 3.1 60 0 1 1324.7 340.6L1371.1 313.8A5.4 3.1 60 0 1 1376.5 323.2Z" style="stroke-width:1.7"/><path class="t" d="M1328.5 338.5A5.4 3.1 60 1 1 1333.8 347.8" style="stroke-width:1.2"/><path class="t" d="M1332.4 336.2A5.4 3.1 60 1 1 1337.8 345.5" style="stroke-width:1.2"/><path class="t" d="M1336.4 333.9A5.4 3.1 60 1 1 1341.8 343.2" style="stroke-width:1.2"/><path class="t" d="M1340.4 331.6A5.4 3.1 60 1 1 1345.8 340.9" style="stroke-width:1.2"/><path class="t" d="M1344.4 329.3A5.4 3.1 60 1 1 1349.8 338.6" style="stroke-width:1.2"/><path class="t" d="M1324.7 340.6A5.4 3.1 60 0 1 1330.1 350" style="stroke-width:1.3"/><path class="t" d="M1329 348.1A3.2 1.8 60 1 1 1325.8 342.5A3.2 1.8 60 1 1 1329 348.1Z"/><path class="w" d="M667.5 591.7A4.6 2.7 60 0 1 662.9 583.7L691.6 567.1A4.6 2.7 60 0 1 696.2 575.1Z" style="stroke-width:1.9"/><path class="t" d="M662.9 583.7A4.6 2.7 60 0 1 667.5 591.7" style="stroke-width:1.2"/><path class="t" d="M666.3 585.7L692.5 570.6" style="stroke-width:0.9;stroke-dasharray:2.5 1.2"/><path class="t" d="M667.5 587.7L693.7 572.7" style="stroke-width:0.9;stroke-dasharray:2.5 1.2"/><path class="w" d="M286.1 686.9A4.6 2.7 60 0 1 281.5 678.9L310.2 662.4A4.6 2.7 60 0 1 314.8 670.3Z" style="stroke-width:1.9"/><path class="t" d="M281.5 678.9A4.6 2.7 60 0 1 286.1 686.9" style="stroke-width:1.2"/><path class="t" d="M284.9 680.9L311 665.8" style="stroke-width:0.9;stroke-dasharray:2.5 1.2"/><path class="t" d="M286.1 682.9L312.2 667.9" style="stroke-width:0.9;stroke-dasharray:2.5 1.2"/><path class="w" d="M1175.8 532.1A4.6 2.7 60 0 1 1171.2 524.1L1199.7 507.7A4.6 2.7 60 0 1 1204.3 515.6Z" style="stroke-width:1.9"/><path class="t" d="M1171.2 524.1A4.6 2.7 60 0 1 1175.8 532.1" style="stroke-width:1.2"/><path class="t" d="M1174.6 526.1L1200.5 511.1" style="stroke-width:0.9;stroke-dasharray:2.5 1.2"/><path class="t" d="M1175.8 528.1L1201.7 513.2" style="stroke-width:0.9;stroke-dasharray:2.5 1.2"/></g>
<g id="p_overlay"><path class="d" d="M303.5 744.1L441 665.3"/><path class="d" d="M316.3 660.5L462.5 577.2"/><path class="d" d="M500.4 578L574.7 536.4"/><path class="t" d="M629.5 506.7L653.8 493.8"/><path class="d" d="M630.7 512.8L715.5 561.3L698.9 571.2"/><path class="d" d="M1116.6 517.1L1257 436.5"/><path class="d" d="M56 880L200.6 793.6"/></g>
<text x="201.3" y="140.9">3500...</text>
<text x="970.5" y="141">1</text>
<text x="817.6" y="202.8">10</text>
<text x="111.6" y="402.4">8</text>
<text x="1348" y="363.9">7</text>
<text x="1320" y="506.8">5</text>
<text x="1201" y="539.8">3</text>
<text x="683.8" y="603.9">3</text>
<text x="619" y="642.9">2</text>
<text x="280" y="659.8">3</text>
<text x="514.5" y="774.8">4</text>
<text x="303" y="872.9">6</text>
<text x="914.6" y="897.9">9</text>
</svg></body></html>
